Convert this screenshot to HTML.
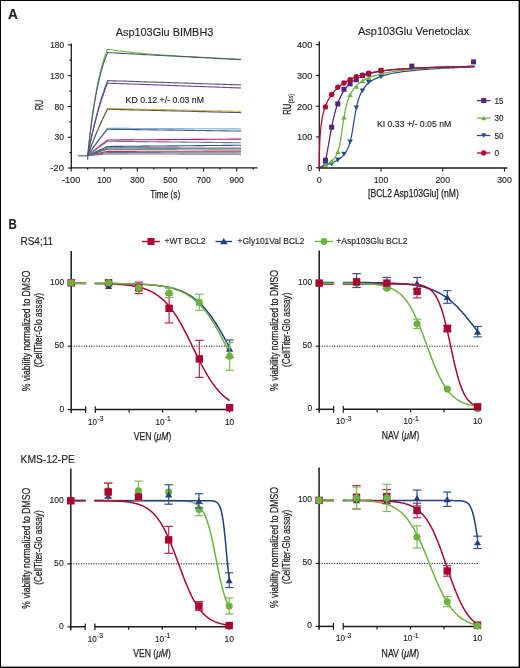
<!DOCTYPE html>
<html><head><meta charset="utf-8"><style>
html,body{margin:0;padding:0;background:#fff;}
svg{display:block;will-change:transform;}
text{font-family:"Liberation Sans", sans-serif;fill:#231f20;stroke:#231f20;stroke-width:0.15px;}
.cd{stroke-width:0.25px;}
</style></head><body>
<svg width="520" height="668" viewBox="0 0 520 668">
<rect width="520" height="668" fill="#fff"/>
<rect x="0" y="0" width="520" height="1" fill="#000"/>
<rect x="0" y="0" width="1" height="668" fill="#000"/>
<rect x="518.6" y="0" width="1.4" height="668" fill="#000"/>
<rect x="0" y="666.6" width="520" height="1.4" fill="#000"/>
<text x="7.90" y="18.70" font-size="14" text-anchor="start" font-weight="bold" textLength="9.9" lengthAdjust="spacingAndGlyphs" fill="#000" stroke="#000" stroke-width="0.45">A</text>
<text x="8.50" y="229.00" font-size="14" text-anchor="start" font-weight="bold" textLength="8.3" lengthAdjust="spacingAndGlyphs" fill="#000" stroke="#000" stroke-width="0.45">B</text>
<text x="164.50" y="36.20" font-size="11" text-anchor="middle" textLength="97.7" lengthAdjust="spacingAndGlyphs" >Asp103Glu BIMBH3</text>
<line x1="71.30" y1="43.50" x2="71.30" y2="168.40" stroke="#1a1a1a" stroke-width="1.3" />
<line x1="70.60" y1="167.90" x2="257.50" y2="167.90" stroke="#1a1a1a" stroke-width="1.3" />
<line x1="67.80" y1="44.93" x2="71.30" y2="44.93" stroke="#1a1a1a" stroke-width="1.1" />
<text x="64.00" y="48.13" font-size="9" text-anchor="end" textLength="13.8" lengthAdjust="spacingAndGlyphs" >180</text>
<line x1="67.80" y1="75.70" x2="71.30" y2="75.70" stroke="#1a1a1a" stroke-width="1.1" />
<text x="64.00" y="78.90" font-size="9" text-anchor="end" textLength="13.8" lengthAdjust="spacingAndGlyphs" >130</text>
<line x1="67.80" y1="106.47" x2="71.30" y2="106.47" stroke="#1a1a1a" stroke-width="1.1" />
<text x="64.00" y="109.67" font-size="9" text-anchor="end" textLength="9.5" lengthAdjust="spacingAndGlyphs" >80</text>
<line x1="67.80" y1="137.24" x2="71.30" y2="137.24" stroke="#1a1a1a" stroke-width="1.1" />
<text x="64.00" y="140.44" font-size="9" text-anchor="end" textLength="9.5" lengthAdjust="spacingAndGlyphs" >30</text>
<line x1="67.80" y1="168.01" x2="71.30" y2="168.01" stroke="#1a1a1a" stroke-width="1.1" />
<text x="64.00" y="171.21" font-size="9" text-anchor="end" textLength="13.8" lengthAdjust="spacingAndGlyphs" >-20</text>
<line x1="69.30" y1="60.31" x2="71.30" y2="60.31" stroke="#1a1a1a" stroke-width="1.1" />
<line x1="69.30" y1="91.08" x2="71.30" y2="91.08" stroke="#1a1a1a" stroke-width="1.1" />
<line x1="69.30" y1="121.85" x2="71.30" y2="121.85" stroke="#1a1a1a" stroke-width="1.1" />
<line x1="69.30" y1="152.62" x2="71.30" y2="152.62" stroke="#1a1a1a" stroke-width="1.1" />
<line x1="71.15" y1="167.90" x2="71.15" y2="171.60" stroke="#1a1a1a" stroke-width="1.1" />
<text x="71.15" y="182.80" font-size="9" text-anchor="middle" textLength="18.5" lengthAdjust="spacingAndGlyphs" >-100</text>
<line x1="87.70" y1="167.90" x2="87.70" y2="169.80" stroke="#1a1a1a" stroke-width="1.1" />
<line x1="104.25" y1="167.90" x2="104.25" y2="171.60" stroke="#1a1a1a" stroke-width="1.1" />
<text x="104.25" y="182.80" font-size="9" text-anchor="middle" textLength="14.2" lengthAdjust="spacingAndGlyphs" >100</text>
<line x1="120.80" y1="167.90" x2="120.80" y2="169.80" stroke="#1a1a1a" stroke-width="1.1" />
<line x1="137.35" y1="167.90" x2="137.35" y2="171.60" stroke="#1a1a1a" stroke-width="1.1" />
<text x="137.35" y="182.80" font-size="9" text-anchor="middle" textLength="14.2" lengthAdjust="spacingAndGlyphs" >300</text>
<line x1="153.90" y1="167.90" x2="153.90" y2="169.80" stroke="#1a1a1a" stroke-width="1.1" />
<line x1="170.45" y1="167.90" x2="170.45" y2="171.60" stroke="#1a1a1a" stroke-width="1.1" />
<text x="170.45" y="182.80" font-size="9" text-anchor="middle" textLength="14.2" lengthAdjust="spacingAndGlyphs" >500</text>
<line x1="187.00" y1="167.90" x2="187.00" y2="169.80" stroke="#1a1a1a" stroke-width="1.1" />
<line x1="203.55" y1="167.90" x2="203.55" y2="171.60" stroke="#1a1a1a" stroke-width="1.1" />
<text x="203.55" y="182.80" font-size="9" text-anchor="middle" textLength="14.2" lengthAdjust="spacingAndGlyphs" >700</text>
<line x1="220.10" y1="167.90" x2="220.10" y2="169.80" stroke="#1a1a1a" stroke-width="1.1" />
<line x1="236.65" y1="167.90" x2="236.65" y2="171.60" stroke="#1a1a1a" stroke-width="1.1" />
<text x="236.65" y="182.80" font-size="9" text-anchor="middle" textLength="14.2" lengthAdjust="spacingAndGlyphs" >900</text>
<line x1="253.20" y1="167.90" x2="253.20" y2="169.80" stroke="#1a1a1a" stroke-width="1.1" />
<text x="165.20" y="197.60" font-size="11" text-anchor="middle" textLength="30" lengthAdjust="spacingAndGlyphs" class="cd">Time (s)</text>
<text x="42.80" y="104.90" font-size="11" text-anchor="middle" textLength="10.3" lengthAdjust="spacingAndGlyphs" transform="rotate(-90 42.80 104.90)" class="cd">RU</text>
<text x="125.60" y="102.80" font-size="9" text-anchor="start" textLength="78.4" lengthAdjust="spacingAndGlyphs" >KD 0.12 +/- 0.03 nM</text>
<path d="M87.70,155.70 L88.53,155.51 L89.36,155.32 L90.18,155.13 L91.01,154.95 L91.84,154.76 L92.67,154.57 L93.49,154.39 L94.32,154.21 L95.15,154.02 L95.98,153.84 L96.80,153.66 L97.63,153.48 L98.46,153.30 L99.28,153.12 L100.11,152.95 L100.94,152.77 L101.77,152.60 L102.59,152.42 L103.42,152.25 L104.25,152.07 L105.08,151.90 L105.91,151.73 L106.73,151.56 L107.56,151.39 L110.98,151.38 L114.41,151.38 L117.83,151.37 L121.26,151.36 L124.68,151.35 L128.11,151.34 L131.53,151.34 L134.96,151.33 L138.38,151.32 L141.81,151.31 L145.23,151.31 L148.65,151.30 L152.08,151.29 L155.50,151.28 L158.93,151.27 L162.35,151.27 L165.78,151.26 L169.20,151.25 L172.63,151.24 L176.05,151.23 L179.48,151.23 L182.90,151.22 L186.33,151.21 L189.75,151.20 L193.17,151.19 L196.60,151.19 L200.02,151.18 L203.45,151.17 L206.87,151.16 L210.30,151.16 L213.72,151.15 L217.15,151.14 L220.57,151.13 L224.00,151.12 L227.42,151.12 L230.84,151.11 L234.27,151.10 L237.69,151.09 L241.12,151.08" fill="none" stroke="#d02848" stroke-width="1.1" stroke-linejoin="miter"/>
<path d="M87.70,155.70 L88.53,155.41 L89.36,155.13 L90.18,154.85 L91.01,154.57 L91.84,154.29 L92.67,154.01 L93.49,153.73 L94.32,153.46 L95.15,153.19 L95.98,152.91 L96.80,152.64 L97.63,152.37 L98.46,152.10 L99.28,151.84 L100.11,151.57 L100.94,151.31 L101.77,151.04 L102.59,150.78 L103.42,150.52 L104.25,150.26 L105.08,150.00 L105.91,149.75 L106.73,149.49 L107.56,149.24 L110.98,149.23 L114.41,149.22 L117.83,149.21 L121.26,149.21 L124.68,149.20 L128.11,149.19 L131.53,149.18 L134.96,149.18 L138.38,149.17 L141.81,149.16 L145.23,149.15 L148.65,149.14 L152.08,149.14 L155.50,149.13 L158.93,149.12 L162.35,149.11 L165.78,149.10 L169.20,149.10 L172.63,149.09 L176.05,149.08 L179.48,149.07 L182.90,149.06 L186.33,149.06 L189.75,149.05 L193.17,149.04 L196.60,149.03 L200.02,149.03 L203.45,149.02 L206.87,149.01 L210.30,149.00 L213.72,148.99 L217.15,148.99 L220.57,148.98 L224.00,148.97 L227.42,148.96 L230.84,148.95 L234.27,148.95 L237.69,148.94 L241.12,148.93" fill="none" stroke="#3f6f5f" stroke-width="1.1" stroke-linejoin="miter"/>
<path d="M87.70,155.70 L88.53,155.29 L89.36,154.89 L90.18,154.48 L91.01,154.08 L91.84,153.68 L92.67,153.29 L93.49,152.89 L94.32,152.50 L95.15,152.11 L95.98,151.72 L96.80,151.33 L97.63,150.95 L98.46,150.56 L99.28,150.18 L100.11,149.80 L100.94,149.42 L101.77,149.05 L102.59,148.67 L103.42,148.30 L104.25,147.93 L105.08,147.56 L105.91,147.20 L106.73,146.83 L107.56,146.47 L110.98,146.44 L114.41,146.41 L117.83,146.37 L121.26,146.34 L124.68,146.31 L128.11,146.28 L131.53,146.25 L134.96,146.22 L138.38,146.18 L141.81,146.15 L145.23,146.12 L148.65,146.09 L152.08,146.06 L155.50,146.03 L158.93,146.00 L162.35,145.96 L165.78,145.93 L169.20,145.90 L172.63,145.87 L176.05,145.84 L179.48,145.81 L182.90,145.77 L186.33,145.74 L189.75,145.71 L193.17,145.68 L196.60,145.65 L200.02,145.62 L203.45,145.59 L206.87,145.55 L210.30,145.52 L213.72,145.49 L217.15,145.46 L220.57,145.43 L224.00,145.40 L227.42,145.36 L230.84,145.33 L234.27,145.30 L237.69,145.27 L241.12,145.24" fill="none" stroke="#2f4f95" stroke-width="1.1" stroke-linejoin="miter"/>
<path d="M87.70,155.70 L88.53,155.01 L89.36,154.32 L90.18,153.63 L91.01,152.95 L91.84,152.27 L92.67,151.60 L93.49,150.93 L94.32,150.26 L95.15,149.59 L95.98,148.93 L96.80,148.27 L97.63,147.62 L98.46,146.97 L99.28,146.32 L100.11,145.67 L100.94,145.03 L101.77,144.39 L102.59,143.76 L103.42,143.12 L104.25,142.49 L105.08,141.87 L105.91,141.24 L106.73,140.62 L107.56,140.01 L110.98,139.98 L114.41,139.96 L117.83,139.94 L121.26,139.91 L124.68,139.89 L128.11,139.87 L131.53,139.84 L134.96,139.82 L138.38,139.79 L141.81,139.77 L145.23,139.75 L148.65,139.72 L152.08,139.70 L155.50,139.68 L158.93,139.65 L162.35,139.63 L165.78,139.60 L169.20,139.58 L172.63,139.56 L176.05,139.53 L179.48,139.51 L182.90,139.49 L186.33,139.46 L189.75,139.44 L193.17,139.42 L196.60,139.39 L200.02,139.37 L203.45,139.34 L206.87,139.32 L210.30,139.30 L213.72,139.27 L217.15,139.25 L220.57,139.23 L224.00,139.20 L227.42,139.18 L230.84,139.16 L234.27,139.13 L237.69,139.11 L241.12,139.08" fill="none" stroke="#cc0a7a" stroke-width="1.1" stroke-linejoin="miter"/>
<path d="M87.70,155.70 L88.53,154.42 L89.36,153.16 L90.18,151.91 L91.01,150.67 L91.84,149.44 L92.67,148.23 L93.49,147.02 L94.32,145.83 L95.15,144.65 L95.98,143.49 L96.80,142.33 L97.63,141.19 L98.46,140.05 L99.28,138.93 L100.11,137.82 L100.94,136.72 L101.77,135.64 L102.59,134.56 L103.42,133.49 L104.25,132.43 L105.08,131.39 L105.91,130.35 L106.73,129.33 L107.56,128.31 L110.98,128.33 L114.41,128.35 L117.83,128.36 L121.26,128.38 L124.68,128.39 L128.11,128.41 L131.53,128.43 L134.96,128.44 L138.38,128.46 L141.81,128.47 L145.23,128.49 L148.65,128.50 L152.08,128.52 L155.50,128.54 L158.93,128.55 L162.35,128.57 L165.78,128.58 L169.20,128.60 L172.63,128.61 L176.05,128.63 L179.48,128.65 L182.90,128.66 L186.33,128.68 L189.75,128.69 L193.17,128.71 L196.60,128.72 L200.02,128.74 L203.45,128.76 L206.87,128.77 L210.30,128.79 L213.72,128.80 L217.15,128.82 L220.57,128.84 L224.00,128.85 L227.42,128.87 L230.84,128.88 L234.27,128.90 L237.69,128.91 L241.12,128.93" fill="none" stroke="#7ab4e4" stroke-width="1.1" stroke-linejoin="miter"/>
<path d="M87.70,155.70 L88.53,153.37 L89.36,151.07 L90.18,148.80 L91.01,146.57 L91.84,144.37 L92.67,142.21 L93.49,140.08 L94.32,137.98 L95.15,135.91 L95.98,133.87 L96.80,131.86 L97.63,129.88 L98.46,127.93 L99.28,126.01 L100.11,124.12 L100.94,122.26 L101.77,120.42 L102.59,118.61 L103.42,116.83 L104.25,115.08 L105.08,113.35 L105.91,111.64 L106.73,109.97 L107.56,108.31 L110.98,108.39 L114.41,108.47 L117.83,108.55 L121.26,108.63 L124.68,108.71 L128.11,108.79 L131.53,108.87 L134.96,108.95 L138.38,109.02 L141.81,109.10 L145.23,109.18 L148.65,109.26 L152.08,109.34 L155.50,109.42 L158.93,109.50 L162.35,109.58 L165.78,109.66 L169.20,109.73 L172.63,109.81 L176.05,109.89 L179.48,109.97 L182.90,110.05 L186.33,110.13 L189.75,110.21 L193.17,110.29 L196.60,110.37 L200.02,110.44 L203.45,110.52 L206.87,110.60 L210.30,110.68 L213.72,110.76 L217.15,110.84 L220.57,110.92 L224.00,111.00 L227.42,111.08 L230.84,111.15 L234.27,111.23 L237.69,111.31 L241.12,111.39" fill="none" stroke="#e4b820" stroke-width="1.1" stroke-linejoin="miter"/>
<path d="M87.70,155.70 L88.53,151.52 L89.36,147.46 L90.18,143.52 L91.01,139.70 L91.84,135.99 L92.67,132.39 L93.49,128.90 L94.32,125.51 L95.15,122.22 L95.98,119.03 L96.80,115.93 L97.63,112.93 L98.46,110.01 L99.28,107.18 L100.11,104.43 L100.94,101.76 L101.77,99.18 L102.59,96.66 L103.42,94.23 L104.25,91.86 L105.08,89.57 L105.91,87.34 L106.73,85.18 L107.56,83.08 L110.98,83.21 L114.41,83.34 L117.83,83.46 L121.26,83.59 L124.68,83.71 L128.11,83.84 L131.53,83.97 L134.96,84.09 L138.38,84.22 L141.81,84.35 L145.23,84.47 L148.65,84.60 L152.08,84.72 L155.50,84.85 L158.93,84.98 L162.35,85.10 L165.78,85.23 L169.20,85.36 L172.63,85.48 L176.05,85.61 L179.48,85.73 L182.90,85.86 L186.33,85.99 L189.75,86.11 L193.17,86.24 L196.60,86.36 L200.02,86.49 L203.45,86.62 L206.87,86.74 L210.30,86.87 L213.72,87.00 L217.15,87.12 L220.57,87.25 L224.00,87.37 L227.42,87.50 L230.84,87.63 L234.27,87.75 L237.69,87.88 L241.12,88.01" fill="none" stroke="#7f3f98" stroke-width="1.1" stroke-linejoin="miter"/>
<path d="M87.70,155.70 L88.53,147.57 L89.36,139.92 L90.18,132.72 L91.01,125.93 L91.84,119.54 L92.67,113.52 L93.49,107.85 L94.32,102.51 L95.15,97.48 L95.98,92.75 L96.80,88.29 L97.63,84.09 L98.46,80.14 L99.28,76.41 L100.11,72.90 L100.94,69.60 L101.77,66.49 L102.59,63.56 L103.42,60.80 L104.25,58.20 L105.08,55.76 L105.91,53.45 L106.73,51.28 L107.56,49.24 L110.98,49.79 L114.41,50.30 L117.83,50.78 L121.26,51.23 L124.68,51.64 L128.11,52.03 L131.53,52.40 L134.96,52.75 L138.38,53.08 L141.81,53.39 L145.23,53.69 L148.65,53.97 L152.08,54.24 L155.50,54.50 L158.93,54.75 L162.35,54.99 L165.78,55.22 L169.20,55.44 L172.63,55.66 L176.05,55.87 L179.48,56.07 L182.90,56.27 L186.33,56.47 L189.75,56.66 L193.17,56.85 L196.60,57.04 L200.02,57.22 L203.45,57.40 L206.87,57.57 L210.30,57.75 L213.72,57.92 L217.15,58.09 L220.57,58.26 L224.00,58.43 L227.42,58.60 L230.84,58.77 L234.27,58.93 L237.69,59.09 L241.12,59.26" fill="none" stroke="#6db33f" stroke-width="1.1" stroke-linejoin="miter"/>
<path d="M87.70,155.70 L88.53,155.62 L89.36,155.54 L90.18,155.46 L91.01,155.38 L91.84,155.30 L92.67,155.22 L93.49,155.14 L94.32,155.06 L95.15,154.98 L95.98,154.90 L96.80,154.83 L97.63,154.75 L98.46,154.67 L99.28,154.60 L100.11,154.52 L100.94,154.44 L101.77,154.37 L102.59,154.29 L103.42,154.22 L104.25,154.15 L105.08,154.07 L105.91,154.00 L106.73,153.93 L107.56,153.85 L110.98,153.86 L114.41,153.88 L117.83,153.89 L121.26,153.90 L124.68,153.91 L128.11,153.92 L131.53,153.93 L134.96,153.94 L138.38,153.95 L141.81,153.96 L145.23,153.98 L148.65,153.99 L152.08,154.00 L155.50,154.01 L158.93,154.02 L162.35,154.03 L165.78,154.04 L169.20,154.05 L172.63,154.06 L176.05,154.07 L179.48,154.09 L182.90,154.10 L186.33,154.11 L189.75,154.12 L193.17,154.13 L196.60,154.14 L200.02,154.15 L203.45,154.16 L206.87,154.17 L210.30,154.19 L213.72,154.20 L217.15,154.21 L220.57,154.22 L224.00,154.23 L227.42,154.24 L230.84,154.25 L234.27,154.26 L237.69,154.27 L241.12,154.28" fill="none" stroke="#737888" stroke-width="1.1" stroke-linejoin="miter"/>
<path d="M87.70,155.70 L88.53,155.56 L89.36,155.42 L90.18,155.28 L91.01,155.14 L91.84,155.00 L92.67,154.86 L93.49,154.73 L94.32,154.59 L95.15,154.45 L95.98,154.32 L96.80,154.19 L97.63,154.05 L98.46,153.92 L99.28,153.79 L100.11,153.66 L100.94,153.52 L101.77,153.39 L102.59,153.26 L103.42,153.14 L104.25,153.01 L105.08,152.88 L105.91,152.75 L106.73,152.63 L107.56,152.50 L110.98,152.51 L114.41,152.52 L117.83,152.53 L121.26,152.54 L124.68,152.56 L128.11,152.57 L131.53,152.58 L134.96,152.59 L138.38,152.60 L141.81,152.61 L145.23,152.62 L148.65,152.63 L152.08,152.64 L155.50,152.65 L158.93,152.67 L162.35,152.68 L165.78,152.69 L169.20,152.70 L172.63,152.71 L176.05,152.72 L179.48,152.73 L182.90,152.74 L186.33,152.75 L189.75,152.77 L193.17,152.78 L196.60,152.79 L200.02,152.80 L203.45,152.81 L206.87,152.82 L210.30,152.83 L213.72,152.84 L217.15,152.85 L220.57,152.86 L224.00,152.88 L227.42,152.89 L230.84,152.90 L234.27,152.91 L237.69,152.92 L241.12,152.93" fill="none" stroke="#737888" stroke-width="1.1" stroke-linejoin="miter"/>
<path d="M87.70,155.70 L88.53,155.35 L89.36,155.01 L90.18,154.66 L91.01,154.32 L91.84,153.98 L92.67,153.64 L93.49,153.30 L94.32,152.97 L95.15,152.63 L95.98,152.30 L96.80,151.97 L97.63,151.64 L98.46,151.32 L99.28,150.99 L100.11,150.67 L100.94,150.34 L101.77,150.02 L102.59,149.70 L103.42,149.39 L104.25,149.07 L105.08,148.76 L105.91,148.44 L106.73,148.13 L107.56,147.82 L110.98,147.83 L114.41,147.83 L117.83,147.84 L121.26,147.84 L124.68,147.85 L128.11,147.85 L131.53,147.86 L134.96,147.86 L138.38,147.87 L141.81,147.87 L145.23,147.87 L148.65,147.88 L152.08,147.88 L155.50,147.89 L158.93,147.89 L162.35,147.90 L165.78,147.90 L169.20,147.91 L172.63,147.91 L176.05,147.92 L179.48,147.92 L182.90,147.93 L186.33,147.93 L189.75,147.94 L193.17,147.94 L196.60,147.95 L200.02,147.95 L203.45,147.96 L206.87,147.96 L210.30,147.96 L213.72,147.97 L217.15,147.97 L220.57,147.98 L224.00,147.98 L227.42,147.99 L230.84,147.99 L234.27,148.00 L237.69,148.00 L241.12,148.01" fill="none" stroke="#5e6a88" stroke-width="1.1" stroke-linejoin="miter"/>
<path d="M87.70,155.70 L88.53,155.06 L89.36,154.43 L90.18,153.80 L91.01,153.17 L91.84,152.54 L92.67,151.92 L93.49,151.30 L94.32,150.69 L95.15,150.07 L95.98,149.46 L96.80,148.86 L97.63,148.25 L98.46,147.65 L99.28,147.05 L100.11,146.46 L100.94,145.87 L101.77,145.28 L102.59,144.69 L103.42,144.11 L104.25,143.53 L105.08,142.95 L105.91,142.38 L106.73,141.81 L107.56,141.24 L110.98,141.28 L114.41,141.32 L117.83,141.36 L121.26,141.40 L124.68,141.44 L128.11,141.47 L131.53,141.51 L134.96,141.55 L138.38,141.59 L141.81,141.63 L145.23,141.67 L148.65,141.71 L152.08,141.75 L155.50,141.79 L158.93,141.83 L162.35,141.87 L165.78,141.91 L169.20,141.95 L172.63,141.99 L176.05,142.03 L179.48,142.07 L182.90,142.11 L186.33,142.15 L189.75,142.18 L193.17,142.22 L196.60,142.26 L200.02,142.30 L203.45,142.34 L206.87,142.38 L210.30,142.42 L213.72,142.46 L217.15,142.50 L220.57,142.54 L224.00,142.58 L227.42,142.62 L230.84,142.66 L234.27,142.70 L237.69,142.74 L241.12,142.78" fill="none" stroke="#737888" stroke-width="1.1" stroke-linejoin="miter"/>
<path d="M87.70,155.70 L88.53,154.47 L89.36,153.24 L90.18,152.03 L91.01,150.84 L91.84,149.65 L92.67,148.48 L93.49,147.32 L94.32,146.16 L95.15,145.03 L95.98,143.90 L96.80,142.78 L97.63,141.68 L98.46,140.58 L99.28,139.50 L100.11,138.43 L100.94,137.36 L101.77,136.31 L102.59,135.27 L103.42,134.24 L104.25,133.22 L105.08,132.21 L105.91,131.21 L106.73,130.22 L107.56,129.24 L110.98,129.29 L114.41,129.33 L117.83,129.38 L121.26,129.43 L124.68,129.47 L128.11,129.52 L131.53,129.57 L134.96,129.62 L138.38,129.66 L141.81,129.71 L145.23,129.76 L148.65,129.81 L152.08,129.85 L155.50,129.90 L158.93,129.95 L162.35,130.00 L165.78,130.04 L169.20,130.09 L172.63,130.14 L176.05,130.18 L179.48,130.23 L182.90,130.28 L186.33,130.33 L189.75,130.37 L193.17,130.42 L196.60,130.47 L200.02,130.52 L203.45,130.56 L206.87,130.61 L210.30,130.66 L213.72,130.71 L217.15,130.75 L220.57,130.80 L224.00,130.85 L227.42,130.89 L230.84,130.94 L234.27,130.99 L237.69,131.04 L241.12,131.08" fill="none" stroke="#4c5a75" stroke-width="1.1" stroke-linejoin="miter"/>
<path d="M87.70,155.70 L88.53,153.41 L89.36,151.16 L90.18,148.94 L91.01,146.75 L91.84,144.60 L92.67,142.47 L93.49,140.38 L94.32,138.32 L95.15,136.29 L95.98,134.29 L96.80,132.32 L97.63,130.38 L98.46,128.47 L99.28,126.59 L100.11,124.73 L100.94,122.91 L101.77,121.11 L102.59,119.33 L103.42,117.59 L104.25,115.87 L105.08,114.17 L105.91,112.50 L106.73,110.86 L107.56,109.24 L110.98,109.32 L114.41,109.41 L117.83,109.50 L121.26,109.58 L124.68,109.67 L128.11,109.76 L131.53,109.84 L134.96,109.93 L138.38,110.02 L141.81,110.11 L145.23,110.19 L148.65,110.28 L152.08,110.37 L155.50,110.45 L158.93,110.54 L162.35,110.63 L165.78,110.71 L169.20,110.80 L172.63,110.89 L176.05,110.97 L179.48,111.06 L182.90,111.15 L186.33,111.23 L189.75,111.32 L193.17,111.41 L196.60,111.49 L200.02,111.58 L203.45,111.67 L206.87,111.75 L210.30,111.84 L213.72,111.93 L217.15,112.01 L220.57,112.10 L224.00,112.19 L227.42,112.27 L230.84,112.36 L234.27,112.45 L237.69,112.54 L241.12,112.62" fill="none" stroke="#4c5a75" stroke-width="1.1" stroke-linejoin="miter"/>
<path d="M87.70,155.70 L88.53,151.38 L89.36,147.18 L90.18,143.11 L91.01,139.16 L91.84,135.32 L92.67,131.60 L93.49,127.99 L94.32,124.49 L95.15,121.09 L95.98,117.79 L96.80,114.58 L97.63,111.48 L98.46,108.46 L99.28,105.53 L100.11,102.69 L100.94,99.93 L101.77,97.26 L102.59,94.66 L103.42,92.14 L104.25,89.70 L105.08,87.33 L105.91,85.02 L106.73,82.79 L107.56,80.62 L110.98,80.73 L114.41,80.84 L117.83,80.95 L121.26,81.06 L124.68,81.17 L128.11,81.28 L131.53,81.39 L134.96,81.50 L138.38,81.62 L141.81,81.73 L145.23,81.84 L148.65,81.95 L152.08,82.06 L155.50,82.17 L158.93,82.28 L162.35,82.39 L165.78,82.50 L169.20,82.61 L172.63,82.72 L176.05,82.83 L179.48,82.94 L182.90,83.05 L186.33,83.16 L189.75,83.27 L193.17,83.38 L196.60,83.49 L200.02,83.60 L203.45,83.71 L206.87,83.82 L210.30,83.93 L213.72,84.05 L217.15,84.16 L220.57,84.27 L224.00,84.38 L227.42,84.49 L230.84,84.60 L234.27,84.71 L237.69,84.82 L241.12,84.93" fill="none" stroke="#4c5a75" stroke-width="1.1" stroke-linejoin="miter"/>
<path d="M87.70,155.70 L88.53,147.83 L89.36,140.42 L90.18,133.45 L91.01,126.88 L91.84,120.69 L92.67,114.86 L93.49,109.37 L94.32,104.20 L95.15,99.34 L95.98,94.75 L96.80,90.43 L97.63,86.37 L98.46,82.54 L99.28,78.93 L100.11,75.54 L100.94,72.34 L101.77,69.33 L102.59,66.49 L103.42,63.82 L104.25,61.30 L105.08,58.93 L105.91,56.70 L106.73,54.60 L107.56,52.62 L110.98,52.80 L114.41,52.98 L117.83,53.16 L121.26,53.35 L124.68,53.53 L128.11,53.71 L131.53,53.89 L134.96,54.07 L138.38,54.25 L141.81,54.44 L145.23,54.62 L148.65,54.80 L152.08,54.98 L155.50,55.16 L158.93,55.34 L162.35,55.52 L165.78,55.71 L169.20,55.89 L172.63,56.07 L176.05,56.25 L179.48,56.43 L182.90,56.61 L186.33,56.79 L189.75,56.98 L193.17,57.16 L196.60,57.34 L200.02,57.52 L203.45,57.70 L206.87,57.88 L210.30,58.06 L213.72,58.25 L217.15,58.43 L220.57,58.61 L224.00,58.79 L227.42,58.97 L230.84,59.15 L234.27,59.33 L237.69,59.52 L241.12,59.70" fill="none" stroke="#4c5a75" stroke-width="1.1" stroke-linejoin="miter"/>
<line x1="87.70" y1="155.70" x2="87.70" y2="159.80" stroke="#4c5a75" stroke-width="1.1" />
<line x1="78.00" y1="155.80" x2="87.70" y2="155.80" stroke="#56627a" stroke-width="1.2" />
<text x="413.60" y="35.30" font-size="11" text-anchor="middle" textLength="111.3" lengthAdjust="spacingAndGlyphs" >Asp103Glu Venetoclax</text>
<line x1="319.30" y1="41.20" x2="319.30" y2="168.40" stroke="#1a1a1a" stroke-width="1.3" />
<line x1="318.60" y1="168.00" x2="507.40" y2="168.00" stroke="#1a1a1a" stroke-width="1.3" />
<line x1="316.00" y1="44.70" x2="319.30" y2="44.70" stroke="#1a1a1a" stroke-width="1.1" />
<text x="312.30" y="48.00" font-size="9" text-anchor="end" textLength="15.3" lengthAdjust="spacingAndGlyphs" >400</text>
<line x1="316.00" y1="75.45" x2="319.30" y2="75.45" stroke="#1a1a1a" stroke-width="1.1" />
<text x="312.30" y="78.75" font-size="9" text-anchor="end" textLength="15.3" lengthAdjust="spacingAndGlyphs" >300</text>
<line x1="316.00" y1="106.20" x2="319.30" y2="106.20" stroke="#1a1a1a" stroke-width="1.1" />
<text x="312.30" y="109.50" font-size="9" text-anchor="end" textLength="15.3" lengthAdjust="spacingAndGlyphs" >200</text>
<line x1="316.00" y1="136.95" x2="319.30" y2="136.95" stroke="#1a1a1a" stroke-width="1.1" />
<text x="312.30" y="140.25" font-size="9" text-anchor="end" textLength="15.3" lengthAdjust="spacingAndGlyphs" >100</text>
<line x1="316.00" y1="167.70" x2="319.30" y2="167.70" stroke="#1a1a1a" stroke-width="1.1" />
<text x="312.30" y="171.00" font-size="9" text-anchor="end" >0</text>
<line x1="319.30" y1="168.00" x2="319.30" y2="171.60" stroke="#1a1a1a" stroke-width="1.1" />
<text x="319.30" y="182.60" font-size="9" text-anchor="middle" >0</text>
<line x1="381.03" y1="168.00" x2="381.03" y2="171.60" stroke="#1a1a1a" stroke-width="1.1" />
<text x="381.03" y="182.60" font-size="9" text-anchor="middle" textLength="14.5" lengthAdjust="spacingAndGlyphs" >100</text>
<line x1="442.76" y1="168.00" x2="442.76" y2="171.60" stroke="#1a1a1a" stroke-width="1.1" />
<text x="442.76" y="182.60" font-size="9" text-anchor="middle" textLength="14.5" lengthAdjust="spacingAndGlyphs" >200</text>
<line x1="504.49" y1="168.00" x2="504.49" y2="171.60" stroke="#1a1a1a" stroke-width="1.1" />
<text x="504.49" y="182.60" font-size="9" text-anchor="middle" textLength="14.5" lengthAdjust="spacingAndGlyphs" >300</text>
<text x="413.40" y="196.90" font-size="11" text-anchor="middle" textLength="90.7" lengthAdjust="spacingAndGlyphs" class="cd">[BCL2 Asp103Glu] (nM)</text>
<text x="291.10" y="114.80" font-size="11" text-anchor="start" textLength="11.0" lengthAdjust="spacingAndGlyphs" transform="rotate(-90 291.10 114.80)" class="cd">RU</text>
<text x="293.40" y="103.30" font-size="7.6" text-anchor="start" textLength="9.5" lengthAdjust="spacingAndGlyphs" transform="rotate(-90 293.40 103.30)" >(ss)</text>
<text x="376.90" y="126.90" font-size="9" text-anchor="start" textLength="74.5" lengthAdjust="spacingAndGlyphs" >KI 0.33 +/- 0.05 nM</text>
<path d="M319.30,167.60 L319.33,167.56 L319.36,167.54 L319.40,167.51 L319.43,167.49 L319.46,167.47 L319.49,167.45 L319.53,167.43 L319.56,167.42 L319.59,167.40 L319.62,167.38 L319.66,167.37 L319.69,167.35 L319.72,167.33 L319.75,167.32 L319.79,167.30 L319.82,167.29 L319.85,167.27 L319.88,167.26 L319.92,167.24 L320.06,167.18 L320.20,167.12 L320.34,167.07 L320.49,167.01 L320.63,166.96 L320.77,166.90 L320.91,166.85 L321.06,166.80 L321.20,166.75 L321.34,166.70 L321.48,166.65 L321.63,166.60 L321.77,166.55 L321.91,166.50 L322.05,166.45 L322.20,166.40 L322.34,166.35 L322.48,166.31 L322.62,166.26 L322.76,166.21 L322.91,166.16 L323.05,166.12 L323.19,166.07 L323.33,166.02 L323.48,165.97 L323.62,165.93 L323.76,165.88 L323.90,165.83 L324.05,165.79 L324.19,165.74 L324.33,165.69 L324.47,165.65 L324.62,165.60 L324.76,165.55 L324.90,165.50 L325.04,165.46 L325.19,165.41 L325.33,165.36 L325.47,165.31 L325.84,165.19 L326.22,165.06 L326.59,164.94 L326.96,164.81 L327.33,164.68 L327.71,164.55 L328.08,164.42 L328.45,164.28 L328.82,164.15 L329.20,164.01 L329.57,163.87 L329.94,163.73 L330.31,163.58 L330.69,163.43 L331.06,163.29 L331.43,163.13 L331.81,162.98 L332.18,162.82 L332.55,162.66 L332.92,162.49 L333.30,162.33 L333.67,162.15 L334.04,161.98 L334.41,161.80 L334.79,161.61 L335.16,161.43 L335.53,161.23 L335.91,161.03 L336.28,160.83 L336.65,160.62 L337.02,160.40 L337.40,160.18 L337.77,159.95 L338.14,159.72 L338.51,159.47 L338.89,159.22 L339.26,158.96 L339.63,158.69 L340.00,158.41 L340.38,158.12 L340.75,157.82 L341.12,157.51 L341.50,157.19 L341.87,156.85 L342.24,156.49 L342.61,156.13 L342.99,155.74 L343.36,155.34 L343.73,154.91 L344.10,154.47 L344.48,154.00 L344.85,153.51 L345.22,152.99 L345.59,152.44 L345.97,151.86 L346.34,151.24 L346.71,150.58 L347.09,149.88 L347.46,149.13 L347.83,148.33 L348.20,147.47 L348.58,146.54 L348.95,145.54 L349.32,144.46 L349.69,143.28 L350.07,142.01 L350.44,140.63 L350.81,139.12 L351.19,137.48 L351.56,135.71 L351.93,133.80 L352.30,131.75 L352.68,129.57 L353.05,127.29 L353.42,124.93 L353.79,122.53 L354.17,120.14 L354.54,117.79 L354.91,115.51 L355.28,113.34 L355.66,111.28 L356.03,109.35 L356.40,107.54 L356.78,105.85 L357.15,104.28 L357.52,102.81 L357.89,101.45 L358.27,100.17 L358.64,98.99 L359.01,97.88 L359.38,96.84 L359.76,95.87 L360.13,94.95 L360.50,94.09 L360.88,93.28 L361.25,92.52 L361.62,91.79 L361.99,91.11 L362.37,90.46 L362.74,89.84 L363.11,89.25 L363.48,88.69 L363.86,88.16 L364.23,87.65 L364.60,87.16 L364.97,86.70 L365.35,86.25 L365.72,85.82 L366.09,85.41 L366.47,85.02 L366.84,84.64 L367.21,84.27 L367.58,83.92 L367.96,83.58 L368.33,83.26 L368.70,82.94 L369.07,82.64 L369.45,82.34 L369.82,82.06 L370.19,81.78 L370.56,81.52 L370.94,81.26 L371.31,81.01 L371.68,80.76 L372.06,80.53 L372.43,80.30 L372.80,80.07 L373.17,79.86 L373.55,79.65 L373.92,79.44 L374.29,79.24 L374.66,79.05 L375.04,78.86 L375.41,78.68 L375.78,78.50 L376.16,78.32 L376.53,78.15 L376.90,77.98 L377.27,77.82 L377.65,77.66 L378.02,77.51 L378.39,77.35 L378.76,77.21 L379.14,77.06 L379.51,76.92 L379.88,76.78 L380.25,76.64 L380.63,76.51 L381.00,76.38 L383.40,75.60 L385.81,74.91 L388.21,74.30 L390.62,73.75 L393.02,73.25 L395.43,72.80 L397.83,72.39 L400.24,72.02 L402.64,71.67 L405.05,71.35 L407.45,71.05 L409.86,70.78 L412.26,70.52 L414.67,70.28 L417.07,70.05 L419.48,69.84 L421.88,69.64 L424.28,69.45 L426.69,69.27 L429.09,69.10 L431.50,68.94 L433.90,68.79 L436.31,68.64 L438.71,68.51 L441.12,68.37 L443.52,68.25 L445.93,68.13 L448.33,68.01 L450.74,67.90 L453.14,67.79 L455.55,67.69 L457.95,67.59 L460.36,67.50 L462.76,67.41 L465.17,67.32 L467.57,67.24 L469.97,67.15 L472.38,67.08 L474.78,67.00" fill="none" stroke="#284c90" stroke-width="1.25" />
<path d="M319.30,167.60 L319.33,167.57 L319.36,167.55 L319.40,167.53 L319.43,167.51 L319.46,167.49 L319.49,167.47 L319.53,167.46 L319.56,167.44 L319.59,167.42 L319.62,167.41 L319.66,167.39 L319.69,167.38 L319.72,167.36 L319.75,167.35 L319.79,167.33 L319.82,167.32 L319.85,167.30 L319.88,167.29 L319.92,167.27 L320.06,167.21 L320.20,167.15 L320.34,167.09 L320.49,167.03 L320.63,166.98 L320.77,166.92 L320.91,166.86 L321.06,166.81 L321.20,166.75 L321.34,166.70 L321.48,166.64 L321.63,166.58 L321.77,166.53 L321.91,166.47 L322.05,166.42 L322.20,166.36 L322.34,166.30 L322.48,166.25 L322.62,166.19 L322.76,166.13 L322.91,166.08 L323.05,166.02 L323.19,165.96 L323.33,165.91 L323.48,165.85 L323.62,165.79 L323.76,165.73 L323.90,165.67 L324.05,165.61 L324.19,165.55 L324.33,165.49 L324.47,165.43 L324.62,165.37 L324.76,165.30 L324.90,165.24 L325.04,165.18 L325.19,165.11 L325.33,165.05 L325.47,164.98 L325.84,164.81 L326.22,164.63 L326.59,164.45 L326.96,164.26 L327.33,164.06 L327.71,163.86 L328.08,163.65 L328.45,163.43 L328.82,163.21 L329.20,162.97 L329.57,162.73 L329.94,162.48 L330.31,162.21 L330.69,161.93 L331.06,161.64 L331.43,161.34 L331.81,161.02 L332.18,160.68 L332.55,160.32 L332.92,159.95 L333.30,159.55 L333.67,159.12 L334.04,158.67 L334.41,158.19 L334.79,157.67 L335.16,157.12 L335.53,156.53 L335.91,155.88 L336.28,155.19 L336.65,154.43 L337.02,153.60 L337.40,152.70 L337.77,151.71 L338.14,150.62 L338.51,149.41 L338.89,148.08 L339.26,146.60 L339.63,144.96 L340.00,143.15 L340.38,141.16 L340.75,138.98 L341.12,136.64 L341.50,134.16 L341.87,131.58 L342.24,128.95 L342.61,126.32 L342.99,123.74 L343.36,121.25 L343.73,118.88 L344.10,116.63 L344.48,114.52 L344.85,112.54 L345.22,110.69 L345.59,108.97 L345.97,107.36 L346.34,105.85 L346.71,104.45 L347.09,103.14 L347.46,101.90 L347.83,100.75 L348.20,99.66 L348.58,98.64 L348.95,97.67 L349.32,96.76 L349.69,95.90 L350.07,95.08 L350.44,94.30 L350.81,93.57 L351.19,92.87 L351.56,92.20 L351.93,91.56 L352.30,90.95 L352.68,90.37 L353.05,89.82 L353.42,89.28 L353.79,88.77 L354.17,88.28 L354.54,87.81 L354.91,87.36 L355.28,86.92 L355.66,86.50 L356.03,86.10 L356.40,85.71 L356.78,85.33 L357.15,84.97 L357.52,84.62 L357.89,84.28 L358.27,83.95 L358.64,83.63 L359.01,83.32 L359.38,83.02 L359.76,82.73 L360.13,82.45 L360.50,82.18 L360.88,81.91 L361.25,81.66 L361.62,81.40 L361.99,81.16 L362.37,80.92 L362.74,80.69 L363.11,80.47 L363.48,80.25 L363.86,80.03 L364.23,79.83 L364.60,79.62 L364.97,79.42 L365.35,79.23 L365.72,79.04 L366.09,78.86 L366.47,78.68 L366.84,78.50 L367.21,78.33 L367.58,78.16 L367.96,78.00 L368.33,77.84 L368.70,77.68 L369.07,77.52 L369.45,77.37 L369.82,77.22 L370.19,77.08 L370.56,76.94 L370.94,76.80 L371.31,76.66 L371.68,76.53 L372.06,76.40 L372.43,76.27 L372.80,76.14 L373.17,76.02 L373.55,75.90 L373.92,75.78 L374.29,75.66 L374.66,75.55 L375.04,75.43 L375.41,75.32 L375.78,75.21 L376.16,75.10 L376.53,75.00 L376.90,74.90 L377.27,74.79 L377.65,74.69 L378.02,74.60 L378.39,74.50 L378.76,74.40 L379.14,74.31 L379.51,74.22 L379.88,74.13 L380.25,74.04 L380.63,73.95 L381.00,73.86 L383.40,73.33 L385.81,72.85 L388.21,72.41 L390.62,72.00 L393.02,71.63 L395.43,71.28 L397.83,70.96 L400.24,70.66 L402.64,70.38 L405.05,70.12 L407.45,69.88 L409.86,69.65 L412.26,69.43 L414.67,69.22 L417.07,69.03 L419.48,68.84 L421.88,68.67 L424.28,68.50 L426.69,68.35 L429.09,68.19 L431.50,68.05 L433.90,67.91 L436.31,67.78 L438.71,67.66 L441.12,67.54 L443.52,67.42 L445.93,67.31 L448.33,67.20 L450.74,67.10 L453.14,67.00 L455.55,66.91 L457.95,66.81 L460.36,66.73 L462.76,66.64 L465.17,66.56 L467.57,66.48 L469.97,66.40 L472.38,66.33 L474.78,66.25" fill="none" stroke="#6ab23f" stroke-width="1.25" />
<path d="M319.30,167.60 L319.33,167.60 L319.36,167.60 L319.40,167.60 L319.43,167.60 L319.46,167.59 L319.49,167.59 L319.53,167.59 L319.56,167.59 L319.59,167.59 L319.62,167.58 L319.66,167.58 L319.69,167.58 L319.72,167.57 L319.75,167.57 L319.79,167.57 L319.82,167.56 L319.85,167.56 L319.88,167.56 L319.92,167.55 L320.06,167.53 L320.20,167.51 L320.34,167.48 L320.49,167.45 L320.63,167.42 L320.77,167.38 L320.91,167.34 L321.06,167.29 L321.20,167.24 L321.34,167.19 L321.48,167.13 L321.63,167.06 L321.77,166.98 L321.91,166.90 L322.05,166.81 L322.20,166.71 L322.34,166.60 L322.48,166.49 L322.62,166.36 L322.76,166.22 L322.91,166.07 L323.05,165.90 L323.19,165.73 L323.33,165.53 L323.48,165.32 L323.62,165.09 L323.76,164.85 L323.90,164.59 L324.05,164.30 L324.19,164.00 L324.33,163.67 L324.47,163.32 L324.62,162.94 L324.76,162.55 L324.90,162.13 L325.04,161.68 L325.19,161.21 L325.33,160.71 L325.47,160.19 L325.84,158.72 L326.22,157.09 L326.59,155.32 L326.96,153.43 L327.33,151.44 L327.71,149.38 L328.08,147.26 L328.45,145.10 L328.82,142.93 L329.20,140.76 L329.57,138.60 L329.94,136.47 L330.31,134.36 L330.69,132.31 L331.06,130.29 L331.43,128.33 L331.81,126.43 L332.18,124.58 L332.55,122.79 L332.92,121.06 L333.30,119.38 L333.67,117.77 L334.04,116.21 L334.41,114.71 L334.79,113.27 L335.16,111.88 L335.53,110.54 L335.91,109.25 L336.28,108.01 L336.65,106.82 L337.02,105.67 L337.40,104.56 L337.77,103.50 L338.14,102.48 L338.51,101.50 L338.89,100.55 L339.26,99.64 L339.63,98.76 L340.00,97.91 L340.38,97.10 L340.75,96.31 L341.12,95.56 L341.50,94.83 L341.87,94.12 L342.24,93.44 L342.61,92.79 L342.99,92.16 L343.36,91.54 L343.73,90.95 L344.10,90.38 L344.48,89.83 L344.85,89.30 L345.22,88.78 L345.59,88.28 L345.97,87.80 L346.34,87.33 L346.71,86.88 L347.09,86.44 L347.46,86.01 L347.83,85.60 L348.20,85.20 L348.58,84.81 L348.95,84.44 L349.32,84.07 L349.69,83.72 L350.07,83.37 L350.44,83.04 L350.81,82.71 L351.19,82.40 L351.56,82.09 L351.93,81.79 L352.30,81.50 L352.68,81.22 L353.05,80.94 L353.42,80.68 L353.79,80.42 L354.17,80.16 L354.54,79.91 L354.91,79.67 L355.28,79.44 L355.66,79.21 L356.03,78.99 L356.40,78.77 L356.78,78.56 L357.15,78.35 L357.52,78.15 L357.89,77.95 L358.27,77.76 L358.64,77.57 L359.01,77.39 L359.38,77.21 L359.76,77.03 L360.13,76.86 L360.50,76.70 L360.88,76.53 L361.25,76.37 L361.62,76.22 L361.99,76.06 L362.37,75.91 L362.74,75.77 L363.11,75.62 L363.48,75.48 L363.86,75.35 L364.23,75.21 L364.60,75.08 L364.97,74.95 L365.35,74.83 L365.72,74.70 L366.09,74.58 L366.47,74.46 L366.84,74.35 L367.21,74.23 L367.58,74.12 L367.96,74.01 L368.33,73.90 L368.70,73.80 L369.07,73.69 L369.45,73.59 L369.82,73.49 L370.19,73.40 L370.56,73.30 L370.94,73.21 L371.31,73.11 L371.68,73.02 L372.06,72.93 L372.43,72.85 L372.80,72.76 L373.17,72.68 L373.55,72.59 L373.92,72.51 L374.29,72.43 L374.66,72.35 L375.04,72.27 L375.41,72.20 L375.78,72.12 L376.16,72.05 L376.53,71.98 L376.90,71.91 L377.27,71.84 L377.65,71.77 L378.02,71.70 L378.39,71.63 L378.76,71.57 L379.14,71.50 L379.51,71.44 L379.88,71.38 L380.25,71.32 L380.63,71.25 L381.00,71.19 L383.40,70.83 L385.81,70.50 L388.21,70.20 L390.62,69.93 L393.02,69.67 L395.43,69.44 L397.83,69.23 L400.24,69.03 L402.64,68.85 L405.05,68.68 L407.45,68.52 L409.86,68.37 L412.26,68.23 L414.67,68.10 L417.07,67.98 L419.48,67.87 L421.88,67.76 L424.28,67.66 L426.69,67.57 L429.09,67.48 L431.50,67.40 L433.90,67.32 L436.31,67.24 L438.71,67.17 L441.12,67.10 L443.52,67.04 L445.93,66.97 L448.33,66.92 L450.74,66.86 L453.14,66.81 L455.55,66.76 L457.95,66.71 L460.36,66.66 L462.76,66.62 L465.17,66.57 L467.57,66.53 L469.97,66.49 L472.38,66.46 L474.78,66.42" fill="none" stroke="#4f2679" stroke-width="1.25" />
<path d="M319.30,167.60 L319.33,160.48 L319.36,157.51 L319.40,155.29 L319.43,153.46 L319.46,151.89 L319.49,150.50 L319.53,149.25 L319.56,148.11 L319.59,147.06 L319.62,146.08 L319.66,145.16 L319.69,144.30 L319.72,143.49 L319.75,142.72 L319.79,141.98 L319.82,141.28 L319.85,140.61 L319.88,139.97 L319.92,139.35 L320.06,136.90 L320.20,134.76 L320.34,132.88 L320.49,131.18 L320.63,129.64 L320.77,128.23 L320.91,126.92 L321.06,125.71 L321.20,124.57 L321.34,123.51 L321.48,122.51 L321.63,121.56 L321.77,120.66 L321.91,119.81 L322.05,119.00 L322.20,118.22 L322.34,117.48 L322.48,116.77 L322.62,116.08 L322.76,115.42 L322.91,114.79 L323.05,114.17 L323.19,113.58 L323.33,113.01 L323.48,112.46 L323.62,111.92 L323.76,111.40 L323.90,110.90 L324.05,110.41 L324.19,109.93 L324.33,109.47 L324.47,109.01 L324.62,108.57 L324.76,108.14 L324.90,107.73 L325.04,107.32 L325.19,106.92 L325.33,106.53 L325.47,106.14 L325.84,105.18 L326.22,104.27 L326.59,103.41 L326.96,102.59 L327.33,101.80 L327.71,101.05 L328.08,100.33 L328.45,99.64 L328.82,98.98 L329.20,98.34 L329.57,97.72 L329.94,97.12 L330.31,96.55 L330.69,95.99 L331.06,95.45 L331.43,94.93 L331.81,94.42 L332.18,93.93 L332.55,93.45 L332.92,92.99 L333.30,92.53 L333.67,92.09 L334.04,91.66 L334.41,91.24 L334.79,90.83 L335.16,90.43 L335.53,90.04 L335.91,89.66 L336.28,89.28 L336.65,88.92 L337.02,88.56 L337.40,88.21 L337.77,87.86 L338.14,87.53 L338.51,87.20 L338.89,86.87 L339.26,86.56 L339.63,86.25 L340.00,85.94 L340.38,85.64 L340.75,85.35 L341.12,85.06 L341.50,84.78 L341.87,84.50 L342.24,84.23 L342.61,83.96 L342.99,83.70 L343.36,83.44 L343.73,83.18 L344.10,82.93 L344.48,82.69 L344.85,82.45 L345.22,82.21 L345.59,81.98 L345.97,81.75 L346.34,81.52 L346.71,81.30 L347.09,81.08 L347.46,80.87 L347.83,80.66 L348.20,80.45 L348.58,80.25 L348.95,80.05 L349.32,79.85 L349.69,79.66 L350.07,79.47 L350.44,79.28 L350.81,79.10 L351.19,78.92 L351.56,78.74 L351.93,78.57 L352.30,78.40 L352.68,78.23 L353.05,78.06 L353.42,77.90 L353.79,77.74 L354.17,77.58 L354.54,77.43 L354.91,77.27 L355.28,77.13 L355.66,76.98 L356.03,76.83 L356.40,76.69 L356.78,76.55 L357.15,76.42 L357.52,76.28 L357.89,76.15 L358.27,76.02 L358.64,75.89 L359.01,75.76 L359.38,75.64 L359.76,75.52 L360.13,75.40 L360.50,75.28 L360.88,75.17 L361.25,75.05 L361.62,74.94 L361.99,74.83 L362.37,74.73 L362.74,74.62 L363.11,74.52 L363.48,74.41 L363.86,74.31 L364.23,74.21 L364.60,74.12 L364.97,74.02 L365.35,73.93 L365.72,73.83 L366.09,73.74 L366.47,73.65 L366.84,73.56 L367.21,73.48 L367.58,73.39 L367.96,73.31 L368.33,73.23 L368.70,73.14 L369.07,73.06 L369.45,72.98 L369.82,72.91 L370.19,72.83 L370.56,72.76 L370.94,72.68 L371.31,72.61 L371.68,72.54 L372.06,72.47 L372.43,72.40 L372.80,72.33 L373.17,72.26 L373.55,72.19 L373.92,72.13 L374.29,72.06 L374.66,72.00 L375.04,71.94 L375.41,71.88 L375.78,71.82 L376.16,71.76 L376.53,71.70 L376.90,71.64 L377.27,71.58 L377.65,71.52 L378.02,71.47 L378.39,71.41 L378.76,71.36 L379.14,71.31 L379.51,71.25 L379.88,71.20 L380.25,71.15 L380.63,71.10 L381.00,71.05 L383.40,70.74 L385.81,70.46 L388.21,70.20 L390.62,69.96 L393.02,69.73 L395.43,69.52 L397.83,69.33 L400.24,69.14 L402.64,68.97 L405.05,68.81 L407.45,68.66 L409.86,68.51 L412.26,68.38 L414.67,68.25 L417.07,68.13 L419.48,68.01 L421.88,67.90 L424.28,67.79 L426.69,67.69 L429.09,67.59 L431.50,67.50 L433.90,67.41 L436.31,67.33 L438.71,67.25 L441.12,67.17 L443.52,67.09 L445.93,67.02 L448.33,66.95 L450.74,66.88 L453.14,66.82 L455.55,66.76 L457.95,66.69 L460.36,66.64 L462.76,66.58 L465.17,66.52 L467.57,66.47 L469.97,66.42 L472.38,66.37 L474.78,66.32" fill="none" stroke="#b00a32" stroke-width="1.25" />
<polygon points="322.67,162.20 328.27,162.20 325.47,166.80" fill="#284c90"/>
<polygon points="328.84,161.90 334.44,161.90 331.64,166.50" fill="#284c90"/>
<polygon points="335.01,157.60 340.61,157.60 337.81,162.20" fill="#284c90"/>
<polygon points="341.18,151.80 346.78,151.80 343.98,156.40" fill="#284c90"/>
<polygon points="347.35,139.60 352.95,139.60 350.15,144.20" fill="#284c90"/>
<polygon points="353.52,105.50 359.12,105.50 356.32,110.10" fill="#284c90"/>
<polygon points="359.69,88.40 365.29,88.40 362.49,93.00" fill="#284c90"/>
<polygon points="365.86,80.00 371.46,80.00 368.66,84.60" fill="#284c90"/>
<polygon points="378.20,74.50 383.80,74.50 381.00,79.10" fill="#284c90"/>
<polygon points="322.67,166.80 328.27,166.80 325.47,162.20" fill="#6ab23f"/>
<polygon points="328.84,163.50 334.44,163.50 331.64,158.90" fill="#6ab23f"/>
<polygon points="335.01,154.00 340.61,154.00 337.81,149.40" fill="#6ab23f"/>
<polygon points="341.18,119.60 346.78,119.60 343.98,115.00" fill="#6ab23f"/>
<polygon points="347.35,97.00 352.95,97.00 350.15,92.40" fill="#6ab23f"/>
<polygon points="353.52,88.80 359.12,88.80 356.32,84.20" fill="#6ab23f"/>
<polygon points="359.69,83.30 365.29,83.30 362.49,78.70" fill="#6ab23f"/>
<polygon points="365.86,80.10 371.46,80.10 368.66,75.50" fill="#6ab23f"/>
<polygon points="378.20,74.90 383.80,74.90 381.00,70.30" fill="#6ab23f"/>
<rect x="322.97" y="157.70" width="5.0" height="5.0" fill="#4f2679"/>
<rect x="329.14" y="124.70" width="5.0" height="5.0" fill="#4f2679"/>
<rect x="335.31" y="101.40" width="5.0" height="5.0" fill="#4f2679"/>
<rect x="341.48" y="86.80" width="5.0" height="5.0" fill="#4f2679"/>
<rect x="347.65" y="81.30" width="5.0" height="5.0" fill="#4f2679"/>
<rect x="353.82" y="77.30" width="5.0" height="5.0" fill="#4f2679"/>
<rect x="359.99" y="73.10" width="5.0" height="5.0" fill="#4f2679"/>
<rect x="366.16" y="71.40" width="5.0" height="5.0" fill="#4f2679"/>
<rect x="378.50" y="67.90" width="5.0" height="5.0" fill="#4f2679"/>
<circle cx="325.47" cy="106.90" r="2.7" fill="#b00a32"/>
<circle cx="331.64" cy="94.40" r="2.7" fill="#b00a32"/>
<circle cx="337.81" cy="87.20" r="2.7" fill="#b00a32"/>
<circle cx="343.98" cy="83.00" r="2.7" fill="#b00a32"/>
<circle cx="350.15" cy="79.80" r="2.7" fill="#b00a32"/>
<circle cx="356.32" cy="76.80" r="2.7" fill="#b00a32"/>
<circle cx="362.49" cy="75.10" r="2.7" fill="#b00a32"/>
<circle cx="368.66" cy="73.10" r="2.7" fill="#b00a32"/>
<circle cx="381.00" cy="70.40" r="2.7" fill="#b00a32"/>
<rect x="409.35" y="63.60" width="5.0" height="5.0" fill="#4f2679"/>
<rect x="471.05" y="59.40" width="5.0" height="5.0" fill="#4f2679"/>
<line x1="477.00" y1="100.60" x2="490.40" y2="100.60" stroke="#4f2679" stroke-width="1.3" />
<rect x="481.20" y="98.10" width="5" height="5" fill="#4f2679"/>
<text x="494.40" y="103.90" font-size="9.5" text-anchor="start" textLength="9.0" lengthAdjust="spacingAndGlyphs" >15</text>
<line x1="477.00" y1="118.05" x2="490.40" y2="118.05" stroke="#6ab23f" stroke-width="1.3" />
<polygon points="481.10,120.18 486.30,120.18 483.70,115.92" fill="#6ab23f"/>
<text x="494.40" y="121.35" font-size="9.5" text-anchor="start" textLength="9.0" lengthAdjust="spacingAndGlyphs" >30</text>
<line x1="477.00" y1="135.50" x2="490.40" y2="135.50" stroke="#284c90" stroke-width="1.3" />
<polygon points="481.10,133.37 486.30,133.37 483.70,137.63" fill="#284c90"/>
<text x="494.40" y="138.80" font-size="9.5" text-anchor="start" textLength="9.0" lengthAdjust="spacingAndGlyphs" >50</text>
<line x1="477.00" y1="152.95" x2="490.40" y2="152.95" stroke="#b00a32" stroke-width="1.3" />
<circle cx="483.70" cy="152.95" r="2.6" fill="#b00a32"/>
<text x="494.40" y="156.25" font-size="9.5" text-anchor="start" textLength="4.6" lengthAdjust="spacingAndGlyphs" >0</text>
<text x="20.50" y="244.80" font-size="10.2" text-anchor="start" textLength="32.5" lengthAdjust="spacingAndGlyphs" >RS4;11</text>
<text x="20.50" y="463.00" font-size="10" text-anchor="start" textLength="54.5" lengthAdjust="spacingAndGlyphs" >KMS-12-PE</text>
<line x1="142.00" y1="241.50" x2="160.00" y2="241.50" stroke="#aa0532" stroke-width="1.4" />
<rect x="147.50" y="238.00" width="7" height="7" fill="#aa0532"/>
<text x="164.50" y="244.40" font-size="8.6" text-anchor="start" textLength="41" lengthAdjust="spacingAndGlyphs" >+WT BCL2</text>
<line x1="215.50" y1="241.50" x2="232.00" y2="241.50" stroke="#203f7e" stroke-width="1.4" />
<polygon points="219.95,244.32 227.55,244.32 223.75,238.08" fill="#203f7e"/>
<text x="237.50" y="244.40" font-size="8.6" text-anchor="start" textLength="67" lengthAdjust="spacingAndGlyphs" >+Gly101Val BCL2</text>
<line x1="314.50" y1="241.50" x2="333.00" y2="241.50" stroke="#6cb33e" stroke-width="1.4" />
<circle cx="324.00" cy="241.50" r="3.4" fill="#6cb33e"/>
<text x="336.30" y="244.40" font-size="8.6" text-anchor="start" textLength="71.2" lengthAdjust="spacingAndGlyphs" >+Asp103Glu BCL2</text>
<line x1="71.20" y1="346.20" x2="230.60" y2="346.20" stroke="#231f20" stroke-width="1" stroke-dasharray="1.2 1.3"/>
<line x1="71.20" y1="251.00" x2="71.20" y2="413.00" stroke="#1a1a1a" stroke-width="1.5" />
<line x1="70.60" y1="409.60" x2="85.60" y2="409.60" stroke="#1a1a1a" stroke-width="1.5" />
<line x1="95.30" y1="409.60" x2="230.20" y2="409.60" stroke="#1a1a1a" stroke-width="1.5" />
<line x1="85.60" y1="406.20" x2="85.60" y2="413.00" stroke="#1a1a1a" stroke-width="1.2" />
<line x1="95.30" y1="406.20" x2="95.30" y2="413.00" stroke="#1a1a1a" stroke-width="1.2" />
<line x1="129.10" y1="409.60" x2="129.10" y2="412.60" stroke="#1a1a1a" stroke-width="1.2" />
<line x1="162.60" y1="409.60" x2="162.60" y2="412.60" stroke="#1a1a1a" stroke-width="1.2" />
<line x1="196.10" y1="409.60" x2="196.10" y2="412.60" stroke="#1a1a1a" stroke-width="1.2" />
<line x1="229.60" y1="409.60" x2="229.60" y2="412.60" stroke="#1a1a1a" stroke-width="1.2" />
<line x1="67.80" y1="282.80" x2="71.20" y2="282.80" stroke="#1a1a1a" stroke-width="1.2" />
<text x="64.10" y="284.80" font-size="9.8" text-anchor="end" textLength="14.1" lengthAdjust="spacingAndGlyphs" >100</text>
<line x1="67.80" y1="346.20" x2="71.20" y2="346.20" stroke="#1a1a1a" stroke-width="1.2" />
<text x="64.10" y="348.20" font-size="9.8" text-anchor="end" textLength="9.6" lengthAdjust="spacingAndGlyphs" >50</text>
<line x1="67.80" y1="409.60" x2="71.20" y2="409.60" stroke="#1a1a1a" stroke-width="1.2" />
<text x="64.10" y="411.60" font-size="9.8" text-anchor="end" textLength="4.7" lengthAdjust="spacingAndGlyphs" >0</text>
<text x="88.10" y="424.50" font-size="9.6" textLength="9.0" lengthAdjust="spacingAndGlyphs">10</text>
<text x="97.40" y="420.80" font-size="6.6" textLength="6.0" lengthAdjust="spacingAndGlyphs">-3</text>
<text x="155.40" y="424.50" font-size="9.6" textLength="9.0" lengthAdjust="spacingAndGlyphs">10</text>
<text x="164.70" y="420.80" font-size="6.6" textLength="6.0" lengthAdjust="spacingAndGlyphs">-1</text>
<text x="229.60" y="424.50" font-size="9.6" text-anchor="middle" textLength="9.4" lengthAdjust="spacingAndGlyphs" >10</text>
<text x="152.50" y="439.70" font-size="11" class="cd" text-anchor="middle" textLength="37.6" lengthAdjust="spacingAndGlyphs">VEN (<tspan font-style="italic">μM</tspan>)</text>
<text x="30.00" y="330.90" font-size="11.5" text-anchor="middle" textLength="120.8" lengthAdjust="spacingAndGlyphs" transform="rotate(-90 30.00 330.90)" class="cd">% viability normalized to DMSO</text>
<text x="42.30" y="330.20" font-size="11.5" text-anchor="middle" textLength="74.3" lengthAdjust="spacingAndGlyphs" transform="rotate(-90 42.30 330.20)" class="cd">(CellTiter-Glo assay)</text>
<clipPath id="clip71_409"><rect x="0" y="0" width="86.10" height="668"/><rect x="94.80" y="0" width="300" height="668"/></clipPath>
<path d="M71.20,283.41 L72.20,283.42 L73.19,283.42 L74.19,283.42 L75.18,283.42 L76.18,283.42 L77.18,283.42 L78.17,283.42 L79.17,283.42 L80.17,283.43 L81.16,283.43 L82.16,283.43 L83.15,283.43 L84.15,283.43 L85.15,283.43 L86.14,283.44 L87.14,283.44 L88.14,283.44 L89.13,283.44 L90.13,283.45 L91.12,283.45 L92.12,283.45 L93.12,283.45 L94.11,283.46 L95.11,283.46 L96.11,283.46 L97.10,283.47 L98.10,283.47 L99.09,283.48 L100.09,283.48 L101.09,283.49 L102.08,283.49 L103.08,283.50 L104.08,283.50 L105.07,283.51 L106.07,283.51 L107.06,283.52 L108.06,283.53 L109.06,283.54 L110.05,283.54 L111.05,283.55 L112.05,283.56 L113.04,283.57 L114.04,283.58 L115.03,283.59 L116.03,283.60 L117.03,283.61 L118.02,283.63 L119.02,283.64 L120.02,283.65 L121.01,283.67 L122.01,283.68 L123.00,283.70 L124.00,283.72 L125.00,283.73 L125.99,283.75 L126.99,283.77 L127.98,283.80 L128.98,283.82 L129.98,283.84 L130.97,283.87 L131.97,283.90 L132.97,283.93 L133.96,283.96 L134.96,283.99 L135.95,284.02 L136.95,284.06 L137.95,284.10 L138.94,284.14 L139.94,284.18 L140.94,284.22 L141.93,284.27 L142.93,284.32 L143.92,284.37 L144.92,284.43 L145.92,284.49 L146.91,284.55 L147.91,284.62 L148.91,284.69 L149.90,284.76 L150.90,284.84 L151.89,284.92 L152.89,285.01 L153.89,285.10 L154.88,285.20 L155.88,285.31 L156.88,285.41 L157.87,285.53 L158.87,285.65 L159.86,285.78 L160.86,285.92 L161.86,286.06 L162.85,286.21 L163.85,286.37 L164.85,286.54 L165.84,286.71 L166.84,286.90 L167.83,287.10 L168.83,287.31 L169.83,287.53 L170.82,287.76 L171.82,288.00 L172.82,288.26 L173.81,288.53 L174.81,288.82 L175.80,289.12 L176.80,289.43 L177.80,289.77 L178.79,290.12 L179.79,290.49 L180.78,290.87 L181.78,291.28 L182.78,291.71 L183.77,292.16 L184.77,292.63 L185.77,293.13 L186.76,293.65 L187.76,294.20 L188.75,294.77 L189.75,295.37 L190.75,295.99 L191.74,296.65 L192.74,297.34 L193.74,298.06 L194.73,298.81 L195.73,299.59 L196.72,300.41 L197.72,301.26 L198.72,302.15 L199.71,303.07 L200.71,304.03 L201.71,305.03 L202.70,306.07 L203.70,307.15 L204.69,308.27 L205.69,309.42 L206.69,310.62 L207.68,311.85 L208.68,313.13 L209.68,314.45 L210.67,315.80 L211.67,317.20 L212.66,318.63 L213.66,320.10 L214.66,321.61 L215.65,323.15 L216.65,324.73 L217.65,326.34 L218.64,327.98 L219.64,329.66 L220.63,331.36 L221.63,333.08 L222.63,334.83 L223.62,336.60 L224.62,338.39 L225.62,340.20 L226.61,342.02 L227.61,343.84 L228.60,345.68 L229.60,347.52" fill="none" stroke="#203f7e" stroke-width="1.5" clip-path="url(#clip71_409)"/>
<path d="M71.20,283.23 L72.20,283.24 L73.19,283.24 L74.19,283.25 L75.18,283.25 L76.18,283.25 L77.18,283.26 L78.17,283.26 L79.17,283.27 L80.17,283.28 L81.16,283.28 L82.16,283.29 L83.15,283.30 L84.15,283.30 L85.15,283.31 L86.14,283.32 L87.14,283.33 L88.14,283.34 L89.13,283.35 L90.13,283.36 L91.12,283.37 L92.12,283.39 L93.12,283.40 L94.11,283.41 L95.11,283.43 L96.11,283.45 L97.10,283.46 L98.10,283.48 L99.09,283.50 L100.09,283.52 L101.09,283.54 L102.08,283.57 L103.08,283.59 L104.08,283.62 L105.07,283.65 L106.07,283.68 L107.06,283.71 L108.06,283.75 L109.06,283.78 L110.05,283.82 L111.05,283.87 L112.05,283.91 L113.04,283.96 L114.04,284.01 L115.03,284.06 L116.03,284.12 L117.03,284.18 L118.02,284.25 L119.02,284.32 L120.02,284.39 L121.01,284.47 L122.01,284.55 L123.00,284.64 L124.00,284.74 L125.00,284.84 L125.99,284.95 L126.99,285.06 L127.98,285.18 L128.98,285.31 L129.98,285.45 L130.97,285.59 L131.97,285.75 L132.97,285.91 L133.96,286.09 L134.96,286.28 L135.95,286.47 L136.95,286.68 L137.95,286.91 L138.94,287.14 L139.94,287.40 L140.94,287.66 L141.93,287.95 L142.93,288.25 L143.92,288.57 L144.92,288.90 L145.92,289.26 L146.91,289.64 L147.91,290.04 L148.91,290.47 L149.90,290.92 L150.90,291.39 L151.89,291.89 L152.89,292.43 L153.89,292.99 L154.88,293.58 L155.88,294.20 L156.88,294.86 L157.87,295.55 L158.87,296.28 L159.86,297.05 L160.86,297.86 L161.86,298.70 L162.85,299.59 L163.85,300.53 L164.85,301.50 L165.84,302.52 L166.84,303.59 L167.83,304.71 L168.83,305.87 L169.83,307.08 L170.82,308.35 L171.82,309.66 L172.82,311.02 L173.81,312.43 L174.81,313.89 L175.80,315.41 L176.80,316.97 L177.80,318.57 L178.79,320.23 L179.79,321.93 L180.78,323.67 L181.78,325.46 L182.78,327.28 L183.77,329.14 L184.77,331.04 L185.77,332.96 L186.76,334.92 L187.76,336.90 L188.75,338.90 L189.75,340.91 L190.75,342.94 L191.74,344.98 L192.74,347.03 L193.74,349.07 L194.73,351.11 L195.73,353.15 L196.72,355.17 L197.72,357.18 L198.72,359.17 L199.71,361.14 L200.71,363.08 L201.71,364.99 L202.70,366.87 L203.70,368.71 L204.69,370.51 L205.69,372.28 L206.69,374.00 L207.68,375.67 L208.68,377.31 L209.68,378.89 L210.67,380.42 L211.67,381.91 L212.66,383.35 L213.66,384.73 L214.66,386.07 L215.65,387.36 L216.65,388.60 L217.65,389.78 L218.64,390.92 L219.64,392.01 L220.63,393.06 L221.63,394.06 L222.63,395.01 L223.62,395.92 L224.62,396.79 L225.62,397.62 L226.61,398.40 L227.61,399.15 L228.60,399.86 L229.60,400.54" fill="none" stroke="#aa0532" stroke-width="1.5" clip-path="url(#clip71_409)"/>
<path d="M71.20,283.36 L72.20,283.36 L73.19,283.36 L74.19,283.36 L75.18,283.36 L76.18,283.36 L77.18,283.36 L78.17,283.36 L79.17,283.37 L80.17,283.37 L81.16,283.37 L82.16,283.37 L83.15,283.37 L84.15,283.37 L85.15,283.38 L86.14,283.38 L87.14,283.38 L88.14,283.38 L89.13,283.39 L90.13,283.39 L91.12,283.39 L92.12,283.40 L93.12,283.40 L94.11,283.40 L95.11,283.41 L96.11,283.41 L97.10,283.41 L98.10,283.42 L99.09,283.42 L100.09,283.43 L101.09,283.43 L102.08,283.44 L103.08,283.44 L104.08,283.45 L105.07,283.46 L106.07,283.46 L107.06,283.47 L108.06,283.48 L109.06,283.49 L110.05,283.50 L111.05,283.51 L112.05,283.51 L113.04,283.52 L114.04,283.54 L115.03,283.55 L116.03,283.56 L117.03,283.57 L118.02,283.59 L119.02,283.60 L120.02,283.61 L121.01,283.63 L122.01,283.65 L123.00,283.67 L124.00,283.68 L125.00,283.70 L125.99,283.73 L126.99,283.75 L127.98,283.77 L128.98,283.80 L129.98,283.82 L130.97,283.85 L131.97,283.88 L132.97,283.91 L133.96,283.94 L134.96,283.98 L135.95,284.02 L136.95,284.06 L137.95,284.10 L138.94,284.14 L139.94,284.19 L140.94,284.24 L141.93,284.29 L142.93,284.34 L143.92,284.40 L144.92,284.46 L145.92,284.52 L146.91,284.59 L147.91,284.66 L148.91,284.74 L149.90,284.82 L150.90,284.91 L151.89,284.99 L152.89,285.09 L153.89,285.19 L154.88,285.30 L155.88,285.41 L156.88,285.52 L157.87,285.65 L158.87,285.78 L159.86,285.92 L160.86,286.07 L161.86,286.22 L162.85,286.38 L163.85,286.56 L164.85,286.74 L165.84,286.93 L166.84,287.13 L167.83,287.34 L168.83,287.57 L169.83,287.81 L170.82,288.06 L171.82,288.32 L172.82,288.60 L173.81,288.89 L174.81,289.20 L175.80,289.52 L176.80,289.86 L177.80,290.22 L178.79,290.60 L179.79,291.00 L180.78,291.42 L181.78,291.86 L182.78,292.32 L183.77,292.81 L184.77,293.32 L185.77,293.85 L186.76,294.41 L187.76,295.00 L188.75,295.62 L189.75,296.27 L190.75,296.95 L191.74,297.66 L192.74,298.40 L193.74,299.18 L194.73,299.99 L195.73,300.84 L196.72,301.72 L197.72,302.65 L198.72,303.61 L199.71,304.61 L200.71,305.66 L201.71,306.74 L202.70,307.87 L203.70,309.04 L204.69,310.26 L205.69,311.51 L206.69,312.82 L207.68,314.16 L208.68,315.56 L209.68,316.99 L210.67,318.48 L211.67,320.00 L212.66,321.57 L213.66,323.19 L214.66,324.84 L215.65,326.54 L216.65,328.27 L217.65,330.05 L218.64,331.86 L219.64,333.71 L220.63,335.59 L221.63,337.50 L222.63,339.44 L223.62,341.41 L224.62,343.40 L225.62,345.41 L226.61,347.44 L227.61,349.48 L228.60,351.54 L229.60,353.60" fill="none" stroke="#6cb33e" stroke-width="1.5" clip-path="url(#clip71_409)"/>
<line x1="229.60" y1="339.99" x2="229.60" y2="357.49" stroke="#33538f" stroke-width="1.2" />
<line x1="225.40" y1="339.99" x2="233.80" y2="339.99" stroke="#33538f" stroke-width="1.2" />
<line x1="225.40" y1="357.49" x2="233.80" y2="357.49" stroke="#33538f" stroke-width="1.2" />
<polygon points="67.60,285.75 74.80,285.75 71.20,279.85" fill="#203f7e"/>
<polygon points="105.00,288.92 112.20,288.92 108.60,283.02" fill="#203f7e"/>
<polygon points="135.25,290.82 142.45,290.82 138.85,284.92" fill="#203f7e"/>
<polygon points="165.50,295.90 172.70,295.90 169.10,289.99" fill="#203f7e"/>
<polygon points="195.75,305.28 202.95,305.28 199.35,299.38" fill="#203f7e"/>
<polygon points="226.00,351.69 233.20,351.69 229.60,345.78" fill="#203f7e"/>
<line x1="138.85" y1="282.17" x2="138.85" y2="293.58" stroke="#bb2a52" stroke-width="1.2" />
<line x1="134.65" y1="282.17" x2="143.05" y2="282.17" stroke="#bb2a52" stroke-width="1.2" />
<line x1="134.65" y1="293.58" x2="143.05" y2="293.58" stroke="#bb2a52" stroke-width="1.2" />
<line x1="169.10" y1="293.58" x2="169.10" y2="323.00" stroke="#bb2a52" stroke-width="1.2" />
<line x1="164.90" y1="293.58" x2="173.30" y2="293.58" stroke="#bb2a52" stroke-width="1.2" />
<line x1="164.90" y1="323.00" x2="173.30" y2="323.00" stroke="#bb2a52" stroke-width="1.2" />
<line x1="199.35" y1="340.37" x2="199.35" y2="377.39" stroke="#bb2a52" stroke-width="1.2" />
<line x1="195.15" y1="340.37" x2="203.55" y2="340.37" stroke="#bb2a52" stroke-width="1.2" />
<line x1="195.15" y1="377.39" x2="203.55" y2="377.39" stroke="#bb2a52" stroke-width="1.2" />
<rect x="67.50" y="279.10" width="7.4" height="7.4" fill="#aa0532"/>
<rect x="104.90" y="279.10" width="7.4" height="7.4" fill="#aa0532"/>
<rect x="135.15" y="284.17" width="7.4" height="7.4" fill="#aa0532"/>
<rect x="165.40" y="304.59" width="7.4" height="7.4" fill="#aa0532"/>
<rect x="195.65" y="355.18" width="7.4" height="7.4" fill="#aa0532"/>
<rect x="225.90" y="404.00" width="7.4" height="7.4" fill="#aa0532"/>
<line x1="169.10" y1="288.38" x2="169.10" y2="297.51" stroke="#7cbd55" stroke-width="1.2" />
<line x1="164.90" y1="288.38" x2="173.30" y2="288.38" stroke="#7cbd55" stroke-width="1.2" />
<line x1="164.90" y1="297.51" x2="173.30" y2="297.51" stroke="#7cbd55" stroke-width="1.2" />
<line x1="199.35" y1="294.21" x2="199.35" y2="310.44" stroke="#7cbd55" stroke-width="1.2" />
<line x1="195.15" y1="294.21" x2="203.55" y2="294.21" stroke="#7cbd55" stroke-width="1.2" />
<line x1="195.15" y1="310.44" x2="203.55" y2="310.44" stroke="#7cbd55" stroke-width="1.2" />
<line x1="229.60" y1="342.40" x2="229.60" y2="370.29" stroke="#7cbd55" stroke-width="1.2" />
<line x1="225.40" y1="342.40" x2="233.80" y2="342.40" stroke="#7cbd55" stroke-width="1.2" />
<line x1="225.40" y1="370.29" x2="233.80" y2="370.29" stroke="#7cbd55" stroke-width="1.2" />
<circle cx="71.20" cy="282.80" r="3.55" fill="#6cb33e"/>
<circle cx="108.60" cy="282.80" r="3.55" fill="#6cb33e"/>
<circle cx="138.85" cy="287.87" r="3.55" fill="#6cb33e"/>
<circle cx="169.10" cy="292.94" r="3.55" fill="#6cb33e"/>
<circle cx="199.35" cy="302.33" r="3.55" fill="#6cb33e"/>
<circle cx="229.60" cy="356.34" r="3.55" fill="#6cb33e"/>
<line x1="319.20" y1="346.20" x2="478.60" y2="346.20" stroke="#231f20" stroke-width="1" stroke-dasharray="1.2 1.3"/>
<line x1="319.20" y1="250.50" x2="319.20" y2="412.70" stroke="#1a1a1a" stroke-width="1.5" />
<line x1="318.60" y1="409.30" x2="333.60" y2="409.30" stroke="#1a1a1a" stroke-width="1.5" />
<line x1="343.30" y1="409.30" x2="478.20" y2="409.30" stroke="#1a1a1a" stroke-width="1.5" />
<line x1="333.60" y1="405.90" x2="333.60" y2="412.70" stroke="#1a1a1a" stroke-width="1.2" />
<line x1="343.30" y1="405.90" x2="343.30" y2="412.70" stroke="#1a1a1a" stroke-width="1.2" />
<line x1="377.10" y1="409.30" x2="377.10" y2="412.30" stroke="#1a1a1a" stroke-width="1.2" />
<line x1="410.60" y1="409.30" x2="410.60" y2="412.30" stroke="#1a1a1a" stroke-width="1.2" />
<line x1="444.10" y1="409.30" x2="444.10" y2="412.30" stroke="#1a1a1a" stroke-width="1.2" />
<line x1="477.60" y1="409.30" x2="477.60" y2="412.30" stroke="#1a1a1a" stroke-width="1.2" />
<line x1="315.80" y1="283.10" x2="319.20" y2="283.10" stroke="#1a1a1a" stroke-width="1.2" />
<text x="312.10" y="285.10" font-size="9.8" text-anchor="end" textLength="14.1" lengthAdjust="spacingAndGlyphs" >100</text>
<line x1="315.80" y1="346.20" x2="319.20" y2="346.20" stroke="#1a1a1a" stroke-width="1.2" />
<text x="312.10" y="348.20" font-size="9.8" text-anchor="end" textLength="9.6" lengthAdjust="spacingAndGlyphs" >50</text>
<line x1="315.80" y1="409.30" x2="319.20" y2="409.30" stroke="#1a1a1a" stroke-width="1.2" />
<text x="312.10" y="411.30" font-size="9.8" text-anchor="end" textLength="4.7" lengthAdjust="spacingAndGlyphs" >0</text>
<text x="336.10" y="424.20" font-size="9.6" textLength="9.0" lengthAdjust="spacingAndGlyphs">10</text>
<text x="345.40" y="420.50" font-size="6.6" textLength="6.0" lengthAdjust="spacingAndGlyphs">-3</text>
<text x="403.40" y="424.20" font-size="9.6" textLength="9.0" lengthAdjust="spacingAndGlyphs">10</text>
<text x="412.70" y="420.50" font-size="6.6" textLength="6.0" lengthAdjust="spacingAndGlyphs">-1</text>
<text x="477.60" y="424.20" font-size="9.6" text-anchor="middle" textLength="9.4" lengthAdjust="spacingAndGlyphs" >10</text>
<text x="400.50" y="439.40" font-size="11" class="cd" text-anchor="middle" textLength="37.6" lengthAdjust="spacingAndGlyphs">NAV (<tspan font-style="italic">μM</tspan>)</text>
<text x="278.00" y="330.50" font-size="11.5" text-anchor="middle" textLength="120.8" lengthAdjust="spacingAndGlyphs" transform="rotate(-90 278.00 330.50)" class="cd">% viability normalized to DMSO</text>
<text x="290.30" y="329.80" font-size="11.5" text-anchor="middle" textLength="74.3" lengthAdjust="spacingAndGlyphs" transform="rotate(-90 290.30 329.80)" class="cd">(CellTiter-Glo assay)</text>
<clipPath id="clip319_409"><rect x="0" y="0" width="334.10" height="668"/><rect x="342.80" y="0" width="300" height="668"/></clipPath>
<path d="M319.20,282.41 L320.20,282.41 L321.19,282.41 L322.19,282.41 L323.18,282.41 L324.18,282.41 L325.18,282.42 L326.17,282.42 L327.17,282.42 L328.17,282.42 L329.16,282.42 L330.16,282.42 L331.15,282.42 L332.15,282.42 L333.15,282.43 L334.14,282.43 L335.14,282.43 L336.14,282.43 L337.13,282.43 L338.13,282.43 L339.12,282.44 L340.12,282.44 L341.12,282.44 L342.11,282.44 L343.11,282.45 L344.11,282.45 L345.10,282.45 L346.10,282.46 L347.09,282.46 L348.09,282.46 L349.09,282.47 L350.08,282.47 L351.08,282.47 L352.08,282.48 L353.07,282.48 L354.07,282.49 L355.06,282.49 L356.06,282.50 L357.06,282.51 L358.05,282.51 L359.05,282.52 L360.05,282.53 L361.04,282.53 L362.04,282.54 L363.03,282.55 L364.03,282.56 L365.03,282.57 L366.02,282.58 L367.02,282.59 L368.02,282.60 L369.01,282.61 L370.01,282.63 L371.00,282.64 L372.00,282.65 L373.00,282.67 L373.99,282.68 L374.99,282.70 L375.98,282.72 L376.98,282.74 L377.98,282.76 L378.97,282.78 L379.97,282.80 L380.97,282.82 L381.96,282.85 L382.96,282.87 L383.95,282.90 L384.95,282.93 L385.95,282.96 L386.94,283.00 L387.94,283.03 L388.94,283.07 L389.93,283.11 L390.93,283.15 L391.92,283.19 L392.92,283.24 L393.92,283.29 L394.91,283.34 L395.91,283.39 L396.91,283.45 L397.90,283.51 L398.90,283.57 L399.89,283.64 L400.89,283.72 L401.89,283.79 L402.88,283.87 L403.88,283.96 L404.88,284.05 L405.87,284.14 L406.87,284.24 L407.86,284.35 L408.86,284.46 L409.86,284.58 L410.85,284.70 L411.85,284.83 L412.85,284.97 L413.84,285.12 L414.84,285.27 L415.83,285.44 L416.83,285.61 L417.83,285.79 L418.82,285.98 L419.82,286.18 L420.82,286.40 L421.81,286.62 L422.81,286.86 L423.80,287.10 L424.80,287.37 L425.80,287.64 L426.79,287.93 L427.79,288.23 L428.78,288.55 L429.78,288.89 L430.78,289.24 L431.77,289.61 L432.77,290.00 L433.77,290.40 L434.76,290.83 L435.76,291.27 L436.75,291.74 L437.75,292.23 L438.75,292.74 L439.74,293.27 L440.74,293.83 L441.74,294.41 L442.73,295.02 L443.73,295.65 L444.72,296.30 L445.72,296.99 L446.72,297.70 L447.71,298.43 L448.71,299.20 L449.71,299.99 L450.70,300.81 L451.70,301.66 L452.69,302.53 L453.69,303.44 L454.69,304.37 L455.68,305.33 L456.68,306.31 L457.68,307.32 L458.67,308.36 L459.67,309.42 L460.66,310.51 L461.66,311.62 L462.66,312.75 L463.65,313.90 L464.65,315.07 L465.65,316.26 L466.64,317.47 L467.64,318.69 L468.63,319.92 L469.63,321.17 L470.63,322.42 L471.62,323.68 L472.62,324.95 L473.62,326.22 L474.61,327.49 L475.61,328.76 L476.60,330.03 L477.60,331.29" fill="none" stroke="#203f7e" stroke-width="1.5" clip-path="url(#clip319_409)"/>
<path d="M319.20,283.89 L320.20,283.89 L321.19,283.89 L322.19,283.89 L323.18,283.89 L324.18,283.89 L325.18,283.89 L326.17,283.89 L327.17,283.89 L328.17,283.89 L329.16,283.89 L330.16,283.89 L331.15,283.89 L332.15,283.89 L333.15,283.89 L334.14,283.89 L335.14,283.89 L336.14,283.89 L337.13,283.89 L338.13,283.89 L339.12,283.89 L340.12,283.89 L341.12,283.89 L342.11,283.89 L343.11,283.89 L344.11,283.89 L345.10,283.89 L346.10,283.89 L347.09,283.89 L348.09,283.89 L349.09,283.89 L350.08,283.89 L351.08,283.89 L352.08,283.89 L353.07,283.89 L354.07,283.89 L355.06,283.89 L356.06,283.89 L357.06,283.89 L358.05,283.89 L359.05,283.89 L360.05,283.89 L361.04,283.89 L362.04,283.89 L363.03,283.89 L364.03,283.89 L365.03,283.89 L366.02,283.89 L367.02,283.89 L368.02,283.89 L369.01,283.89 L370.01,283.89 L371.00,283.89 L372.00,283.89 L373.00,283.89 L373.99,283.89 L374.99,283.89 L375.98,283.89 L376.98,283.89 L377.98,283.89 L378.97,283.89 L379.97,283.90 L380.97,283.90 L381.96,283.90 L382.96,283.90 L383.95,283.90 L384.95,283.90 L385.95,283.90 L386.94,283.90 L387.94,283.90 L388.94,283.90 L389.93,283.91 L390.93,283.91 L391.92,283.91 L392.92,283.91 L393.92,283.92 L394.91,283.92 L395.91,283.93 L396.91,283.93 L397.90,283.94 L398.90,283.95 L399.89,283.95 L400.89,283.96 L401.89,283.98 L402.88,283.99 L403.88,284.01 L404.88,284.02 L405.87,284.04 L406.87,284.07 L407.86,284.10 L408.86,284.13 L409.86,284.17 L410.85,284.21 L411.85,284.27 L412.85,284.33 L413.84,284.39 L414.84,284.47 L415.83,284.57 L416.83,284.68 L417.83,284.80 L418.82,284.95 L419.82,285.11 L420.82,285.31 L421.81,285.53 L422.81,285.79 L423.80,286.09 L424.80,286.44 L425.80,286.84 L426.79,287.30 L427.79,287.83 L428.78,288.43 L429.78,289.13 L430.78,289.94 L431.77,290.85 L432.77,291.90 L433.77,293.09 L434.76,294.44 L435.76,295.97 L436.75,297.70 L437.75,299.64 L438.75,301.80 L439.74,304.21 L440.74,306.87 L441.74,309.80 L442.73,312.99 L443.73,316.44 L444.72,320.15 L445.72,324.10 L446.72,328.26 L447.71,332.60 L448.71,337.09 L449.71,341.67 L450.70,346.31 L451.70,350.95 L452.69,355.53 L453.69,360.02 L454.69,364.35 L455.68,368.51 L456.68,372.45 L457.68,376.15 L458.67,379.60 L459.67,382.79 L460.66,385.70 L461.66,388.36 L462.66,390.76 L463.65,392.92 L464.65,394.85 L465.65,396.57 L466.64,398.10 L467.64,399.45 L468.63,400.64 L469.63,401.68 L470.63,402.59 L471.62,403.39 L472.62,404.09 L473.62,404.69 L474.61,405.22 L475.61,405.68 L476.60,406.08 L477.60,406.42" fill="none" stroke="#aa0532" stroke-width="1.5" clip-path="url(#clip319_409)"/>
<path d="M319.20,283.14 L320.20,283.14 L321.19,283.14 L322.19,283.14 L323.18,283.14 L324.18,283.14 L325.18,283.15 L326.17,283.15 L327.17,283.15 L328.17,283.15 L329.16,283.15 L330.16,283.15 L331.15,283.16 L332.15,283.16 L333.15,283.16 L334.14,283.17 L335.14,283.17 L336.14,283.17 L337.13,283.18 L338.13,283.18 L339.12,283.18 L340.12,283.19 L341.12,283.20 L342.11,283.20 L343.11,283.21 L344.11,283.22 L345.10,283.22 L346.10,283.23 L347.09,283.24 L348.09,283.25 L349.09,283.26 L350.08,283.28 L351.08,283.29 L352.08,283.30 L353.07,283.32 L354.07,283.34 L355.06,283.36 L356.06,283.38 L357.06,283.40 L358.05,283.42 L359.05,283.45 L360.05,283.48 L361.04,283.51 L362.04,283.55 L363.03,283.59 L364.03,283.63 L365.03,283.67 L366.02,283.72 L367.02,283.78 L368.02,283.84 L369.01,283.90 L370.01,283.97 L371.00,284.05 L372.00,284.13 L373.00,284.22 L373.99,284.32 L374.99,284.43 L375.98,284.54 L376.98,284.67 L377.98,284.81 L378.97,284.96 L379.97,285.13 L380.97,285.31 L381.96,285.50 L382.96,285.71 L383.95,285.94 L384.95,286.19 L385.95,286.47 L386.94,286.76 L387.94,287.09 L388.94,287.43 L389.93,287.81 L390.93,288.22 L391.92,288.67 L392.92,289.15 L393.92,289.67 L394.91,290.23 L395.91,290.84 L396.91,291.50 L397.90,292.21 L398.90,292.97 L399.89,293.80 L400.89,294.68 L401.89,295.63 L402.88,296.65 L403.88,297.74 L404.88,298.90 L405.87,300.15 L406.87,301.47 L407.86,302.88 L408.86,304.38 L409.86,305.97 L410.85,307.64 L411.85,309.41 L412.85,311.27 L413.84,313.22 L414.84,315.26 L415.83,317.39 L416.83,319.60 L417.83,321.90 L418.82,324.27 L419.82,326.71 L420.82,329.22 L421.81,331.79 L422.81,334.41 L423.80,337.06 L424.80,339.75 L425.80,342.46 L426.79,345.18 L427.79,347.90 L428.78,350.62 L429.78,353.31 L430.78,355.97 L431.77,358.60 L432.77,361.17 L433.77,363.69 L434.76,366.15 L435.76,368.54 L436.75,370.85 L437.75,373.07 L438.75,375.22 L439.74,377.28 L440.74,379.24 L441.74,381.12 L442.73,382.90 L443.73,384.59 L444.72,386.20 L445.72,387.71 L446.72,389.14 L447.71,390.48 L448.71,391.74 L449.71,392.92 L450.70,394.02 L451.70,395.05 L452.69,396.01 L453.69,396.91 L454.69,397.74 L455.68,398.52 L456.68,399.24 L457.68,399.90 L458.67,400.52 L459.67,401.09 L460.66,401.62 L461.66,402.11 L462.66,402.56 L463.65,402.98 L464.65,403.36 L465.65,403.72 L466.64,404.04 L467.64,404.34 L468.63,404.62 L469.63,404.88 L470.63,405.11 L471.62,405.33 L472.62,405.52 L473.62,405.71 L474.61,405.87 L475.61,406.03 L476.60,406.17 L477.60,406.30" fill="none" stroke="#6cb33e" stroke-width="1.5" clip-path="url(#clip319_409)"/>
<line x1="356.60" y1="273.63" x2="356.60" y2="287.52" stroke="#33538f" stroke-width="1.2" />
<line x1="352.40" y1="273.63" x2="360.80" y2="273.63" stroke="#33538f" stroke-width="1.2" />
<line x1="352.40" y1="287.52" x2="360.80" y2="287.52" stroke="#33538f" stroke-width="1.2" />
<line x1="386.85" y1="277.42" x2="386.85" y2="288.78" stroke="#33538f" stroke-width="1.2" />
<line x1="382.65" y1="277.42" x2="391.05" y2="277.42" stroke="#33538f" stroke-width="1.2" />
<line x1="382.65" y1="288.78" x2="391.05" y2="288.78" stroke="#33538f" stroke-width="1.2" />
<line x1="417.10" y1="277.42" x2="417.10" y2="288.78" stroke="#33538f" stroke-width="1.2" />
<line x1="412.90" y1="277.42" x2="421.30" y2="277.42" stroke="#33538f" stroke-width="1.2" />
<line x1="412.90" y1="288.78" x2="421.30" y2="288.78" stroke="#33538f" stroke-width="1.2" />
<line x1="447.35" y1="290.67" x2="447.35" y2="303.29" stroke="#33538f" stroke-width="1.2" />
<line x1="443.15" y1="290.67" x2="451.55" y2="290.67" stroke="#33538f" stroke-width="1.2" />
<line x1="443.15" y1="303.29" x2="451.55" y2="303.29" stroke="#33538f" stroke-width="1.2" />
<line x1="477.60" y1="326.51" x2="477.60" y2="336.86" stroke="#33538f" stroke-width="1.2" />
<line x1="473.40" y1="326.51" x2="481.80" y2="326.51" stroke="#33538f" stroke-width="1.2" />
<line x1="473.40" y1="336.86" x2="481.80" y2="336.86" stroke="#33538f" stroke-width="1.2" />
<polygon points="315.60,286.05 322.80,286.05 319.20,280.15" fill="#203f7e"/>
<polygon points="353.00,283.53 360.20,283.53 356.60,277.62" fill="#203f7e"/>
<polygon points="383.25,286.05 390.45,286.05 386.85,280.15" fill="#203f7e"/>
<polygon points="413.50,286.05 420.70,286.05 417.10,280.15" fill="#203f7e"/>
<polygon points="443.75,299.93 450.95,299.93 447.35,294.03" fill="#203f7e"/>
<polygon points="474.00,334.64 481.20,334.64 477.60,328.74" fill="#203f7e"/>
<line x1="417.10" y1="319.19" x2="417.10" y2="328.53" stroke="#7cbd55" stroke-width="1.2" />
<line x1="412.90" y1="319.19" x2="421.30" y2="319.19" stroke="#7cbd55" stroke-width="1.2" />
<line x1="412.90" y1="328.53" x2="421.30" y2="328.53" stroke="#7cbd55" stroke-width="1.2" />
<circle cx="319.20" cy="283.10" r="3.55" fill="#6cb33e"/>
<circle cx="356.60" cy="283.10" r="3.55" fill="#6cb33e"/>
<circle cx="386.85" cy="288.15" r="3.55" fill="#6cb33e"/>
<circle cx="417.10" cy="323.86" r="3.55" fill="#6cb33e"/>
<circle cx="447.35" cy="389.11" r="3.55" fill="#6cb33e"/>
<circle cx="477.60" cy="408.67" r="3.55" fill="#6cb33e"/>
<line x1="417.10" y1="284.74" x2="417.10" y2="297.87" stroke="#bb2a52" stroke-width="1.2" />
<line x1="412.90" y1="284.74" x2="421.30" y2="284.74" stroke="#bb2a52" stroke-width="1.2" />
<line x1="412.90" y1="297.87" x2="421.30" y2="297.87" stroke="#bb2a52" stroke-width="1.2" />
<line x1="447.35" y1="325.38" x2="447.35" y2="331.69" stroke="#bb2a52" stroke-width="1.2" />
<line x1="443.15" y1="325.38" x2="451.55" y2="325.38" stroke="#bb2a52" stroke-width="1.2" />
<line x1="443.15" y1="331.69" x2="451.55" y2="331.69" stroke="#bb2a52" stroke-width="1.2" />
<rect x="315.50" y="279.40" width="7.4" height="7.4" fill="#aa0532"/>
<rect x="352.90" y="278.14" width="7.4" height="7.4" fill="#aa0532"/>
<rect x="383.15" y="279.40" width="7.4" height="7.4" fill="#aa0532"/>
<rect x="413.40" y="287.60" width="7.4" height="7.4" fill="#aa0532"/>
<rect x="443.65" y="324.83" width="7.4" height="7.4" fill="#aa0532"/>
<rect x="473.90" y="403.08" width="7.4" height="7.4" fill="#aa0532"/>
<line x1="70.80" y1="563.80" x2="230.20" y2="563.80" stroke="#231f20" stroke-width="1" stroke-dasharray="1.2 1.3"/>
<line x1="70.80" y1="468.50" x2="70.80" y2="630.20" stroke="#1a1a1a" stroke-width="1.5" />
<line x1="70.20" y1="626.80" x2="85.20" y2="626.80" stroke="#1a1a1a" stroke-width="1.5" />
<line x1="94.90" y1="626.80" x2="229.80" y2="626.80" stroke="#1a1a1a" stroke-width="1.5" />
<line x1="85.20" y1="623.40" x2="85.20" y2="630.20" stroke="#1a1a1a" stroke-width="1.2" />
<line x1="94.90" y1="623.40" x2="94.90" y2="630.20" stroke="#1a1a1a" stroke-width="1.2" />
<line x1="128.70" y1="626.80" x2="128.70" y2="629.80" stroke="#1a1a1a" stroke-width="1.2" />
<line x1="162.20" y1="626.80" x2="162.20" y2="629.80" stroke="#1a1a1a" stroke-width="1.2" />
<line x1="195.70" y1="626.80" x2="195.70" y2="629.80" stroke="#1a1a1a" stroke-width="1.2" />
<line x1="229.20" y1="626.80" x2="229.20" y2="629.80" stroke="#1a1a1a" stroke-width="1.2" />
<line x1="67.40" y1="500.80" x2="70.80" y2="500.80" stroke="#1a1a1a" stroke-width="1.2" />
<text x="63.70" y="502.80" font-size="9.8" text-anchor="end" textLength="14.1" lengthAdjust="spacingAndGlyphs" >100</text>
<line x1="67.40" y1="563.80" x2="70.80" y2="563.80" stroke="#1a1a1a" stroke-width="1.2" />
<text x="63.70" y="565.80" font-size="9.8" text-anchor="end" textLength="9.6" lengthAdjust="spacingAndGlyphs" >50</text>
<line x1="67.40" y1="626.80" x2="70.80" y2="626.80" stroke="#1a1a1a" stroke-width="1.2" />
<text x="63.70" y="628.80" font-size="9.8" text-anchor="end" textLength="4.7" lengthAdjust="spacingAndGlyphs" >0</text>
<text x="87.70" y="641.70" font-size="9.6" textLength="9.0" lengthAdjust="spacingAndGlyphs">10</text>
<text x="97.00" y="638.00" font-size="6.6" textLength="6.0" lengthAdjust="spacingAndGlyphs">-3</text>
<text x="155.00" y="641.70" font-size="9.6" textLength="9.0" lengthAdjust="spacingAndGlyphs">10</text>
<text x="164.30" y="638.00" font-size="6.6" textLength="6.0" lengthAdjust="spacingAndGlyphs">-1</text>
<text x="229.20" y="641.70" font-size="9.6" text-anchor="middle" textLength="9.4" lengthAdjust="spacingAndGlyphs" >10</text>
<text x="152.10" y="656.90" font-size="11" class="cd" text-anchor="middle" textLength="37.6" lengthAdjust="spacingAndGlyphs">VEN (<tspan font-style="italic">μM</tspan>)</text>
<text x="29.60" y="548.25" font-size="11.5" text-anchor="middle" textLength="120.8" lengthAdjust="spacingAndGlyphs" transform="rotate(-90 29.60 548.25)" class="cd">% viability normalized to DMSO</text>
<text x="41.90" y="547.55" font-size="11.5" text-anchor="middle" textLength="74.3" lengthAdjust="spacingAndGlyphs" transform="rotate(-90 41.90 547.55)" class="cd">(CellTiter-Glo assay)</text>
<clipPath id="clip70_626"><rect x="0" y="0" width="85.70" height="668"/><rect x="94.40" y="0" width="300" height="668"/></clipPath>
<path d="M70.80,500.49 L71.80,500.49 L72.79,500.49 L73.79,500.49 L74.78,500.49 L75.78,500.49 L76.78,500.49 L77.77,500.49 L78.77,500.49 L79.77,500.49 L80.76,500.49 L81.76,500.49 L82.75,500.49 L83.75,500.49 L84.75,500.49 L85.74,500.49 L86.74,500.49 L87.74,500.49 L88.73,500.49 L89.73,500.49 L90.72,500.49 L91.72,500.49 L92.72,500.49 L93.71,500.49 L94.71,500.49 L95.71,500.49 L96.70,500.49 L97.70,500.49 L98.69,500.49 L99.69,500.49 L100.69,500.49 L101.68,500.49 L102.68,500.49 L103.68,500.49 L104.67,500.49 L105.67,500.49 L106.66,500.49 L107.66,500.49 L108.66,500.49 L109.65,500.49 L110.65,500.49 L111.65,500.49 L112.64,500.49 L113.64,500.49 L114.63,500.49 L115.63,500.49 L116.63,500.49 L117.62,500.49 L118.62,500.49 L119.62,500.49 L120.61,500.49 L121.61,500.49 L122.60,500.49 L123.60,500.49 L124.60,500.49 L125.59,500.49 L126.59,500.49 L127.58,500.49 L128.58,500.49 L129.58,500.49 L130.57,500.49 L131.57,500.49 L132.57,500.49 L133.56,500.49 L134.56,500.49 L135.55,500.49 L136.55,500.49 L137.55,500.49 L138.54,500.49 L139.54,500.49 L140.54,500.49 L141.53,500.49 L142.53,500.49 L143.52,500.49 L144.52,500.49 L145.52,500.49 L146.51,500.49 L147.51,500.49 L148.51,500.49 L149.50,500.49 L150.50,500.49 L151.49,500.49 L152.49,500.49 L153.49,500.49 L154.48,500.49 L155.48,500.49 L156.48,500.49 L157.47,500.50 L158.47,500.50 L159.46,500.50 L160.46,500.50 L161.46,500.50 L162.45,500.50 L163.45,500.50 L164.45,500.51 L165.44,500.51 L166.44,500.51 L167.43,500.52 L168.43,500.52 L169.43,500.53 L170.42,500.53 L171.42,500.54 L172.42,500.55 L173.41,500.56 L174.41,500.58 L175.40,500.59 L176.40,500.61 L177.40,500.63 L178.39,500.66 L179.39,500.69 L180.38,500.73 L181.38,500.78 L182.38,500.83 L183.37,500.89 L184.37,500.97 L185.37,501.06 L186.36,501.17 L187.36,501.29 L188.35,501.44 L189.35,501.62 L190.35,501.83 L191.34,502.08 L192.34,502.37 L193.34,502.72 L194.33,503.13 L195.33,503.61 L196.32,504.18 L197.32,504.86 L198.32,505.64 L199.31,506.56 L200.31,507.64 L201.31,508.89 L202.30,510.34 L203.30,512.01 L204.29,513.93 L205.29,516.12 L206.29,518.62 L207.28,521.42 L208.28,524.56 L209.28,528.03 L210.27,531.83 L211.27,535.95 L212.26,540.37 L213.26,545.03 L214.26,549.89 L215.25,554.89 L216.25,559.95 L217.25,564.99 L218.24,569.96 L219.24,574.76 L220.23,579.36 L221.23,583.69 L222.23,587.72 L223.22,591.42 L224.22,594.80 L225.22,597.83 L226.21,600.54 L227.21,602.94 L228.20,605.06 L229.20,606.90" fill="none" stroke="#6cb33e" stroke-width="1.5" clip-path="url(#clip70_626)"/>
<path d="M70.80,500.64 L71.80,500.64 L72.79,500.64 L73.79,500.64 L74.78,500.64 L75.78,500.64 L76.78,500.64 L77.77,500.64 L78.77,500.64 L79.77,500.64 L80.76,500.64 L81.76,500.64 L82.75,500.64 L83.75,500.64 L84.75,500.64 L85.74,500.64 L86.74,500.64 L87.74,500.64 L88.73,500.64 L89.73,500.64 L90.72,500.64 L91.72,500.64 L92.72,500.64 L93.71,500.64 L94.71,500.64 L95.71,500.64 L96.70,500.64 L97.70,500.64 L98.69,500.64 L99.69,500.64 L100.69,500.64 L101.68,500.64 L102.68,500.64 L103.68,500.64 L104.67,500.64 L105.67,500.64 L106.66,500.64 L107.66,500.64 L108.66,500.64 L109.65,500.64 L110.65,500.64 L111.65,500.64 L112.64,500.64 L113.64,500.64 L114.63,500.64 L115.63,500.64 L116.63,500.64 L117.62,500.64 L118.62,500.64 L119.62,500.64 L120.61,500.64 L121.61,500.64 L122.60,500.64 L123.60,500.64 L124.60,500.64 L125.59,500.64 L126.59,500.64 L127.58,500.64 L128.58,500.64 L129.58,500.64 L130.57,500.64 L131.57,500.64 L132.57,500.64 L133.56,500.64 L134.56,500.64 L135.55,500.64 L136.55,500.64 L137.55,500.64 L138.54,500.64 L139.54,500.64 L140.54,500.64 L141.53,500.64 L142.53,500.64 L143.52,500.64 L144.52,500.64 L145.52,500.64 L146.51,500.64 L147.51,500.64 L148.51,500.64 L149.50,500.64 L150.50,500.64 L151.49,500.64 L152.49,500.64 L153.49,500.64 L154.48,500.64 L155.48,500.64 L156.48,500.64 L157.47,500.64 L158.47,500.64 L159.46,500.64 L160.46,500.64 L161.46,500.64 L162.45,500.64 L163.45,500.64 L164.45,500.64 L165.44,500.64 L166.44,500.64 L167.43,500.64 L168.43,500.64 L169.43,500.64 L170.42,500.64 L171.42,500.64 L172.42,500.64 L173.41,500.64 L174.41,500.64 L175.40,500.64 L176.40,500.64 L177.40,500.64 L178.39,500.64 L179.39,500.64 L180.38,500.64 L181.38,500.64 L182.38,500.64 L183.37,500.64 L184.37,500.64 L185.37,500.64 L186.36,500.64 L187.36,500.64 L188.35,500.64 L189.35,500.64 L190.35,500.64 L191.34,500.64 L192.34,500.64 L193.34,500.64 L194.33,500.64 L195.33,500.64 L196.32,500.64 L197.32,500.64 L198.32,500.64 L199.31,500.64 L200.31,500.64 L201.31,500.65 L202.30,500.65 L203.30,500.65 L204.29,500.65 L205.29,500.66 L206.29,500.66 L207.28,500.67 L208.28,500.69 L209.28,500.72 L210.27,500.76 L211.27,500.81 L212.26,500.90 L213.26,501.04 L214.26,501.25 L215.25,501.56 L216.25,502.03 L217.25,502.73 L218.24,503.79 L219.24,505.35 L220.23,507.63 L221.23,510.91 L222.23,515.49 L223.22,521.66 L224.22,529.56 L225.22,539.05 L226.21,549.63 L227.21,560.48 L228.20,570.68 L229.20,579.52" fill="none" stroke="#203f7e" stroke-width="1.5" clip-path="url(#clip70_626)"/>
<path d="M70.80,500.42 L71.80,500.42 L72.79,500.43 L73.79,500.43 L74.78,500.43 L75.78,500.43 L76.78,500.43 L77.77,500.43 L78.77,500.44 L79.77,500.44 L80.76,500.44 L81.76,500.44 L82.75,500.44 L83.75,500.45 L84.75,500.45 L85.74,500.45 L86.74,500.46 L87.74,500.46 L88.73,500.47 L89.73,500.47 L90.72,500.48 L91.72,500.48 L92.72,500.49 L93.71,500.50 L94.71,500.50 L95.71,500.51 L96.70,500.52 L97.70,500.53 L98.69,500.54 L99.69,500.55 L100.69,500.57 L101.68,500.58 L102.68,500.59 L103.68,500.61 L104.67,500.63 L105.67,500.65 L106.66,500.67 L107.66,500.69 L108.66,500.72 L109.65,500.75 L110.65,500.77 L111.65,500.81 L112.64,500.84 L113.64,500.88 L114.63,500.92 L115.63,500.97 L116.63,501.02 L117.62,501.07 L118.62,501.13 L119.62,501.20 L120.61,501.27 L121.61,501.34 L122.60,501.42 L123.60,501.51 L124.60,501.61 L125.59,501.72 L126.59,501.83 L127.58,501.96 L128.58,502.10 L129.58,502.25 L130.57,502.41 L131.57,502.58 L132.57,502.78 L133.56,502.98 L134.56,503.21 L135.55,503.45 L136.55,503.72 L137.55,504.01 L138.54,504.32 L139.54,504.66 L140.54,505.03 L141.53,505.42 L142.53,505.85 L143.52,506.32 L144.52,506.82 L145.52,507.36 L146.51,507.95 L147.51,508.58 L148.51,509.27 L149.50,510.00 L150.50,510.79 L151.49,511.64 L152.49,512.55 L153.49,513.52 L154.48,514.57 L155.48,515.68 L156.48,516.88 L157.47,518.14 L158.47,519.50 L159.46,520.93 L160.46,522.45 L161.46,524.06 L162.45,525.75 L163.45,527.54 L164.45,529.41 L165.44,531.38 L166.44,533.43 L167.43,535.57 L168.43,537.79 L169.43,540.09 L170.42,542.47 L171.42,544.92 L172.42,547.43 L173.41,549.99 L174.41,552.60 L175.40,555.26 L176.40,557.94 L177.40,560.64 L178.39,563.36 L179.39,566.07 L180.38,568.78 L181.38,571.47 L182.38,574.13 L183.37,576.76 L184.37,579.33 L185.37,581.86 L186.36,584.32 L187.36,586.71 L188.35,589.03 L189.35,591.27 L190.35,593.43 L191.34,595.51 L192.34,597.49 L193.34,599.39 L194.33,601.20 L195.33,602.92 L196.32,604.55 L197.32,606.09 L198.32,607.54 L199.31,608.91 L200.31,610.20 L201.31,611.41 L202.30,612.55 L203.30,613.61 L204.29,614.60 L205.29,615.53 L206.29,616.39 L207.28,617.19 L208.28,617.94 L209.28,618.64 L210.27,619.28 L211.27,619.88 L212.26,620.43 L213.26,620.94 L214.26,621.42 L215.25,621.86 L216.25,622.26 L217.25,622.64 L218.24,622.98 L219.24,623.30 L220.23,623.59 L221.23,623.86 L222.23,624.11 L223.22,624.34 L224.22,624.56 L225.22,624.75 L226.21,624.93 L227.21,625.10 L228.20,625.25 L229.20,625.39" fill="none" stroke="#aa0532" stroke-width="1.5" clip-path="url(#clip70_626)"/>
<line x1="108.20" y1="483.41" x2="108.20" y2="498.03" stroke="#7cbd55" stroke-width="1.2" />
<line x1="104.00" y1="483.41" x2="112.40" y2="483.41" stroke="#7cbd55" stroke-width="1.2" />
<line x1="104.00" y1="498.03" x2="112.40" y2="498.03" stroke="#7cbd55" stroke-width="1.2" />
<line x1="138.45" y1="481.14" x2="138.45" y2="500.30" stroke="#7cbd55" stroke-width="1.2" />
<line x1="134.25" y1="481.14" x2="142.65" y2="481.14" stroke="#7cbd55" stroke-width="1.2" />
<line x1="134.25" y1="500.30" x2="142.65" y2="500.30" stroke="#7cbd55" stroke-width="1.2" />
<line x1="198.95" y1="503.57" x2="198.95" y2="515.67" stroke="#7cbd55" stroke-width="1.2" />
<line x1="194.75" y1="503.57" x2="203.15" y2="503.57" stroke="#7cbd55" stroke-width="1.2" />
<line x1="194.75" y1="515.67" x2="203.15" y2="515.67" stroke="#7cbd55" stroke-width="1.2" />
<line x1="229.20" y1="597.95" x2="229.20" y2="614.07" stroke="#7cbd55" stroke-width="1.2" />
<line x1="225.00" y1="597.95" x2="233.40" y2="597.95" stroke="#7cbd55" stroke-width="1.2" />
<line x1="225.00" y1="614.07" x2="233.40" y2="614.07" stroke="#7cbd55" stroke-width="1.2" />
<circle cx="70.80" cy="500.80" r="3.55" fill="#6cb33e"/>
<circle cx="108.20" cy="490.72" r="3.55" fill="#6cb33e"/>
<circle cx="138.45" cy="490.72" r="3.55" fill="#6cb33e"/>
<circle cx="168.70" cy="491.98" r="3.55" fill="#6cb33e"/>
<circle cx="198.95" cy="509.62" r="3.55" fill="#6cb33e"/>
<circle cx="229.20" cy="606.01" r="3.55" fill="#6cb33e"/>
<line x1="168.70" y1="484.80" x2="168.70" y2="504.20" stroke="#33538f" stroke-width="1.2" />
<line x1="164.50" y1="484.80" x2="172.90" y2="484.80" stroke="#33538f" stroke-width="1.2" />
<line x1="164.50" y1="504.20" x2="172.90" y2="504.20" stroke="#33538f" stroke-width="1.2" />
<line x1="198.95" y1="493.74" x2="198.95" y2="507.86" stroke="#33538f" stroke-width="1.2" />
<line x1="194.75" y1="493.74" x2="203.15" y2="493.74" stroke="#33538f" stroke-width="1.2" />
<line x1="194.75" y1="507.86" x2="203.15" y2="507.86" stroke="#33538f" stroke-width="1.2" />
<line x1="229.20" y1="572.75" x2="229.20" y2="587.61" stroke="#33538f" stroke-width="1.2" />
<line x1="225.00" y1="572.75" x2="233.40" y2="572.75" stroke="#33538f" stroke-width="1.2" />
<line x1="225.00" y1="587.61" x2="233.40" y2="587.61" stroke="#33538f" stroke-width="1.2" />
<polygon points="67.20,503.75 74.40,503.75 70.80,497.85" fill="#203f7e"/>
<polygon points="104.60,498.71 111.80,498.71 108.20,492.81" fill="#203f7e"/>
<polygon points="134.85,498.71 142.05,498.71 138.45,492.81" fill="#203f7e"/>
<polygon points="165.10,497.45 172.30,497.45 168.70,491.55" fill="#203f7e"/>
<polygon points="195.35,503.75 202.55,503.75 198.95,497.85" fill="#203f7e"/>
<polygon points="225.60,583.13 232.80,583.13 229.20,577.23" fill="#203f7e"/>
<line x1="108.20" y1="482.91" x2="108.20" y2="501.05" stroke="#bb2a52" stroke-width="1.2" />
<line x1="104.00" y1="482.91" x2="112.40" y2="482.91" stroke="#bb2a52" stroke-width="1.2" />
<line x1="104.00" y1="501.05" x2="112.40" y2="501.05" stroke="#bb2a52" stroke-width="1.2" />
<line x1="168.70" y1="526.38" x2="168.70" y2="553.34" stroke="#bb2a52" stroke-width="1.2" />
<line x1="164.50" y1="526.38" x2="172.90" y2="526.38" stroke="#bb2a52" stroke-width="1.2" />
<line x1="164.50" y1="553.34" x2="172.90" y2="553.34" stroke="#bb2a52" stroke-width="1.2" />
<line x1="198.95" y1="601.60" x2="198.95" y2="610.42" stroke="#bb2a52" stroke-width="1.2" />
<line x1="194.75" y1="601.60" x2="203.15" y2="601.60" stroke="#bb2a52" stroke-width="1.2" />
<line x1="194.75" y1="610.42" x2="203.15" y2="610.42" stroke="#bb2a52" stroke-width="1.2" />
<rect x="67.10" y="497.10" width="7.4" height="7.4" fill="#aa0532"/>
<rect x="104.50" y="488.28" width="7.4" height="7.4" fill="#aa0532"/>
<rect x="134.75" y="493.32" width="7.4" height="7.4" fill="#aa0532"/>
<rect x="165.00" y="536.16" width="7.4" height="7.4" fill="#aa0532"/>
<rect x="195.25" y="602.31" width="7.4" height="7.4" fill="#aa0532"/>
<rect x="225.50" y="621.84" width="7.4" height="7.4" fill="#aa0532"/>
<line x1="319.10" y1="563.40" x2="478.50" y2="563.40" stroke="#231f20" stroke-width="1" stroke-dasharray="1.2 1.3"/>
<line x1="319.10" y1="467.50" x2="319.10" y2="629.80" stroke="#1a1a1a" stroke-width="1.5" />
<line x1="318.50" y1="626.40" x2="333.50" y2="626.40" stroke="#1a1a1a" stroke-width="1.5" />
<line x1="343.20" y1="626.40" x2="478.10" y2="626.40" stroke="#1a1a1a" stroke-width="1.5" />
<line x1="333.50" y1="623.00" x2="333.50" y2="629.80" stroke="#1a1a1a" stroke-width="1.2" />
<line x1="343.20" y1="623.00" x2="343.20" y2="629.80" stroke="#1a1a1a" stroke-width="1.2" />
<line x1="377.00" y1="626.40" x2="377.00" y2="629.40" stroke="#1a1a1a" stroke-width="1.2" />
<line x1="410.50" y1="626.40" x2="410.50" y2="629.40" stroke="#1a1a1a" stroke-width="1.2" />
<line x1="444.00" y1="626.40" x2="444.00" y2="629.40" stroke="#1a1a1a" stroke-width="1.2" />
<line x1="477.50" y1="626.40" x2="477.50" y2="629.40" stroke="#1a1a1a" stroke-width="1.2" />
<line x1="315.70" y1="500.40" x2="319.10" y2="500.40" stroke="#1a1a1a" stroke-width="1.2" />
<text x="312.00" y="502.40" font-size="9.8" text-anchor="end" textLength="14.1" lengthAdjust="spacingAndGlyphs" >100</text>
<line x1="315.70" y1="563.40" x2="319.10" y2="563.40" stroke="#1a1a1a" stroke-width="1.2" />
<text x="312.00" y="565.40" font-size="9.8" text-anchor="end" textLength="9.6" lengthAdjust="spacingAndGlyphs" >50</text>
<line x1="315.70" y1="626.40" x2="319.10" y2="626.40" stroke="#1a1a1a" stroke-width="1.2" />
<text x="312.00" y="628.40" font-size="9.8" text-anchor="end" textLength="4.7" lengthAdjust="spacingAndGlyphs" >0</text>
<text x="336.00" y="641.30" font-size="9.6" textLength="9.0" lengthAdjust="spacingAndGlyphs">10</text>
<text x="345.30" y="637.60" font-size="6.6" textLength="6.0" lengthAdjust="spacingAndGlyphs">-3</text>
<text x="403.30" y="641.30" font-size="9.6" textLength="9.0" lengthAdjust="spacingAndGlyphs">10</text>
<text x="412.60" y="637.60" font-size="6.6" textLength="6.0" lengthAdjust="spacingAndGlyphs">-1</text>
<text x="477.50" y="641.30" font-size="9.6" text-anchor="middle" textLength="9.4" lengthAdjust="spacingAndGlyphs" >10</text>
<text x="400.40" y="656.50" font-size="11" class="cd" text-anchor="middle" textLength="37.6" lengthAdjust="spacingAndGlyphs">NAV (<tspan font-style="italic">μM</tspan>)</text>
<text x="277.90" y="547.55" font-size="11.5" text-anchor="middle" textLength="120.8" lengthAdjust="spacingAndGlyphs" transform="rotate(-90 277.90 547.55)" class="cd">% viability normalized to DMSO</text>
<text x="290.20" y="546.85" font-size="11.5" text-anchor="middle" textLength="74.3" lengthAdjust="spacingAndGlyphs" transform="rotate(-90 290.20 546.85)" class="cd">(CellTiter-Glo assay)</text>
<clipPath id="clip319_626"><rect x="0" y="0" width="334.00" height="668"/><rect x="342.70" y="0" width="300" height="668"/></clipPath>
<path d="M319.10,500.59 L320.10,500.59 L321.09,500.59 L322.09,500.59 L323.08,500.59 L324.08,500.59 L325.08,500.59 L326.07,500.59 L327.07,500.59 L328.07,500.59 L329.06,500.59 L330.06,500.59 L331.05,500.59 L332.05,500.59 L333.05,500.59 L334.04,500.59 L335.04,500.59 L336.04,500.59 L337.03,500.59 L338.03,500.59 L339.02,500.59 L340.02,500.59 L341.02,500.59 L342.01,500.59 L343.01,500.59 L344.01,500.59 L345.00,500.59 L346.00,500.59 L346.99,500.59 L347.99,500.59 L348.99,500.59 L349.98,500.59 L350.98,500.59 L351.98,500.59 L352.97,500.59 L353.97,500.59 L354.96,500.59 L355.96,500.59 L356.96,500.59 L357.95,500.59 L358.95,500.59 L359.95,500.59 L360.94,500.59 L361.94,500.59 L362.93,500.59 L363.93,500.59 L364.93,500.59 L365.92,500.59 L366.92,500.59 L367.92,500.59 L368.91,500.59 L369.91,500.59 L370.90,500.59 L371.90,500.59 L372.90,500.59 L373.89,500.59 L374.89,500.59 L375.88,500.59 L376.88,500.59 L377.88,500.59 L378.87,500.59 L379.87,500.59 L380.87,500.59 L381.86,500.59 L382.86,500.59 L383.85,500.59 L384.85,500.59 L385.85,500.59 L386.84,500.59 L387.84,500.59 L388.84,500.59 L389.83,500.59 L390.83,500.59 L391.82,500.59 L392.82,500.59 L393.82,500.59 L394.81,500.59 L395.81,500.59 L396.81,500.59 L397.80,500.59 L398.80,500.59 L399.79,500.59 L400.79,500.59 L401.79,500.59 L402.78,500.59 L403.78,500.59 L404.78,500.59 L405.77,500.59 L406.77,500.59 L407.76,500.59 L408.76,500.59 L409.76,500.59 L410.75,500.59 L411.75,500.59 L412.75,500.59 L413.74,500.59 L414.74,500.59 L415.73,500.59 L416.73,500.59 L417.73,500.59 L418.72,500.59 L419.72,500.59 L420.72,500.59 L421.71,500.59 L422.71,500.59 L423.70,500.59 L424.70,500.59 L425.70,500.59 L426.69,500.59 L427.69,500.59 L428.68,500.59 L429.68,500.59 L430.68,500.59 L431.67,500.59 L432.67,500.59 L433.67,500.59 L434.66,500.59 L435.66,500.59 L436.65,500.59 L437.65,500.59 L438.65,500.59 L439.64,500.59 L440.64,500.59 L441.64,500.59 L442.63,500.59 L443.63,500.59 L444.62,500.59 L445.62,500.59 L446.62,500.60 L447.61,500.60 L448.61,500.60 L449.61,500.60 L450.60,500.60 L451.60,500.61 L452.59,500.61 L453.59,500.62 L454.59,500.63 L455.58,500.64 L456.58,500.66 L457.58,500.69 L458.57,500.73 L459.57,500.78 L460.56,500.86 L461.56,500.96 L462.56,501.10 L463.55,501.29 L464.55,501.56 L465.55,501.93 L466.54,502.43 L467.54,503.11 L468.53,504.04 L469.53,505.30 L470.53,506.98 L471.52,509.19 L472.52,512.07 L473.52,515.72 L474.51,520.24 L475.51,525.64 L476.50,531.85 L477.50,538.66" fill="none" stroke="#203f7e" stroke-width="1.5" clip-path="url(#clip319_626)"/>
<path d="M319.10,500.46 L320.10,500.46 L321.09,500.46 L322.09,500.46 L323.08,500.46 L324.08,500.46 L325.08,500.46 L326.07,500.46 L327.07,500.46 L328.07,500.46 L329.06,500.46 L330.06,500.46 L331.05,500.46 L332.05,500.47 L333.05,500.47 L334.04,500.47 L335.04,500.47 L336.04,500.47 L337.03,500.47 L338.03,500.47 L339.02,500.47 L340.02,500.47 L341.02,500.47 L342.01,500.47 L343.01,500.47 L344.01,500.47 L345.00,500.48 L346.00,500.48 L346.99,500.48 L347.99,500.48 L348.99,500.48 L349.98,500.48 L350.98,500.49 L351.98,500.49 L352.97,500.49 L353.97,500.50 L354.96,500.50 L355.96,500.50 L356.96,500.51 L357.95,500.51 L358.95,500.52 L359.95,500.52 L360.94,500.53 L361.94,500.53 L362.93,500.54 L363.93,500.55 L364.93,500.55 L365.92,500.56 L366.92,500.57 L367.92,500.58 L368.91,500.59 L369.91,500.61 L370.90,500.62 L371.90,500.63 L372.90,500.65 L373.89,500.67 L374.89,500.69 L375.88,500.71 L376.88,500.73 L377.88,500.76 L378.87,500.78 L379.87,500.81 L380.87,500.84 L381.86,500.88 L382.86,500.92 L383.85,500.96 L384.85,501.01 L385.85,501.06 L386.84,501.11 L387.84,501.17 L388.84,501.24 L389.83,501.31 L390.83,501.39 L391.82,501.47 L392.82,501.56 L393.82,501.66 L394.81,501.77 L395.81,501.89 L396.81,502.02 L397.80,502.17 L398.80,502.32 L399.79,502.49 L400.79,502.67 L401.79,502.87 L402.78,503.09 L403.78,503.33 L404.78,503.59 L405.77,503.87 L406.77,504.18 L407.76,504.51 L408.76,504.87 L409.76,505.26 L410.75,505.69 L411.75,506.15 L412.75,506.65 L413.74,507.19 L414.74,507.77 L415.73,508.41 L416.73,509.09 L417.73,509.83 L418.72,510.63 L419.72,511.49 L420.72,512.42 L421.71,513.41 L422.71,514.48 L423.70,515.63 L424.70,516.85 L425.70,518.16 L426.69,519.56 L427.69,521.05 L428.68,522.63 L429.68,524.30 L430.68,526.07 L431.67,527.95 L432.67,529.92 L433.67,531.98 L434.66,534.15 L435.66,536.41 L436.65,538.77 L437.65,541.21 L438.65,543.74 L439.64,546.35 L440.64,549.02 L441.64,551.76 L442.63,554.56 L443.63,557.40 L444.62,560.27 L445.62,563.17 L446.62,566.08 L447.61,569.00 L448.61,571.90 L449.61,574.78 L450.60,577.63 L451.60,580.44 L452.59,583.20 L453.59,585.90 L454.59,588.53 L455.58,591.08 L456.58,593.55 L457.58,595.93 L458.57,598.22 L459.57,600.42 L460.56,602.52 L461.56,604.52 L462.56,606.42 L463.55,608.22 L464.55,609.92 L465.55,611.53 L466.54,613.05 L467.54,614.47 L468.53,615.81 L469.53,617.06 L470.53,618.23 L471.52,619.32 L472.52,620.33 L473.52,621.28 L474.51,622.16 L475.51,622.98 L476.50,623.73 L477.50,624.43" fill="none" stroke="#aa0532" stroke-width="1.5" clip-path="url(#clip319_626)"/>
<path d="M319.10,499.97 L320.10,499.97 L321.09,499.98 L322.09,499.98 L323.08,499.98 L324.08,499.98 L325.08,499.99 L326.07,499.99 L327.07,499.99 L328.07,499.99 L329.06,500.00 L330.06,500.00 L331.05,500.01 L332.05,500.01 L333.05,500.02 L334.04,500.02 L335.04,500.03 L336.04,500.03 L337.03,500.04 L338.03,500.05 L339.02,500.06 L340.02,500.06 L341.02,500.07 L342.01,500.08 L343.01,500.10 L344.01,500.11 L345.00,500.12 L346.00,500.13 L346.99,500.15 L347.99,500.16 L348.99,500.18 L349.98,500.20 L350.98,500.22 L351.98,500.24 L352.97,500.27 L353.97,500.29 L354.96,500.32 L355.96,500.35 L356.96,500.38 L357.95,500.42 L358.95,500.45 L359.95,500.50 L360.94,500.54 L361.94,500.59 L362.93,500.64 L363.93,500.69 L364.93,500.75 L365.92,500.82 L366.92,500.89 L367.92,500.97 L368.91,501.05 L369.91,501.14 L370.90,501.23 L371.90,501.33 L372.90,501.44 L373.89,501.56 L374.89,501.69 L375.88,501.83 L376.88,501.98 L377.88,502.14 L378.87,502.32 L379.87,502.51 L380.87,502.71 L381.86,502.93 L382.86,503.17 L383.85,503.42 L384.85,503.69 L385.85,503.99 L386.84,504.30 L387.84,504.64 L388.84,505.01 L389.83,505.40 L390.83,505.83 L391.82,506.28 L392.82,506.76 L393.82,507.29 L394.81,507.84 L395.81,508.44 L396.81,509.08 L397.80,509.77 L398.80,510.50 L399.79,511.28 L400.79,512.11 L401.79,513.00 L402.78,513.94 L403.78,514.94 L404.78,516.01 L405.77,517.13 L406.77,518.33 L407.76,519.59 L408.76,520.92 L409.76,522.33 L410.75,523.81 L411.75,525.36 L412.75,526.98 L413.74,528.69 L414.74,530.46 L415.73,532.31 L416.73,534.24 L417.73,536.23 L418.72,538.29 L419.72,540.42 L420.72,542.61 L421.71,544.86 L422.71,547.16 L423.70,549.51 L424.70,551.90 L425.70,554.33 L426.69,556.78 L427.69,559.26 L428.68,561.75 L429.68,564.25 L430.68,566.75 L431.67,569.24 L432.67,571.71 L433.67,574.16 L434.66,576.58 L435.66,578.97 L436.65,581.31 L437.65,583.60 L438.65,585.84 L439.64,588.02 L440.64,590.14 L441.64,592.19 L442.63,594.17 L443.63,596.08 L444.62,597.92 L445.62,599.68 L446.62,601.37 L447.61,602.98 L448.61,604.52 L449.61,605.98 L450.60,607.38 L451.60,608.70 L452.59,609.95 L453.59,611.13 L454.59,612.24 L455.58,613.30 L456.58,614.29 L457.58,615.22 L458.57,616.10 L459.57,616.92 L460.56,617.69 L461.56,618.41 L462.56,619.09 L463.55,619.72 L464.55,620.31 L465.55,620.86 L466.54,621.38 L467.54,621.86 L468.53,622.31 L469.53,622.72 L470.53,623.11 L471.52,623.47 L472.52,623.81 L473.52,624.12 L474.51,624.41 L475.51,624.68 L476.50,624.93 L477.50,625.16" fill="none" stroke="#6cb33e" stroke-width="1.5" clip-path="url(#clip319_626)"/>
<line x1="417.00" y1="490.07" x2="417.00" y2="505.94" stroke="#33538f" stroke-width="1.2" />
<line x1="412.80" y1="490.07" x2="421.20" y2="490.07" stroke="#33538f" stroke-width="1.2" />
<line x1="412.80" y1="505.94" x2="421.20" y2="505.94" stroke="#33538f" stroke-width="1.2" />
<line x1="447.25" y1="492.08" x2="447.25" y2="506.45" stroke="#33538f" stroke-width="1.2" />
<line x1="443.05" y1="492.08" x2="451.45" y2="492.08" stroke="#33538f" stroke-width="1.2" />
<line x1="443.05" y1="506.45" x2="451.45" y2="506.45" stroke="#33538f" stroke-width="1.2" />
<line x1="477.50" y1="536.18" x2="477.50" y2="548.53" stroke="#33538f" stroke-width="1.2" />
<line x1="473.30" y1="536.18" x2="481.70" y2="536.18" stroke="#33538f" stroke-width="1.2" />
<line x1="473.30" y1="548.53" x2="481.70" y2="548.53" stroke="#33538f" stroke-width="1.2" />
<polygon points="315.50,503.35 322.70,503.35 319.10,497.45" fill="#203f7e"/>
<polygon points="352.90,503.35 360.10,503.35 356.50,497.45" fill="#203f7e"/>
<polygon points="383.15,503.35 390.35,503.35 386.75,497.45" fill="#203f7e"/>
<polygon points="413.40,500.96 420.60,500.96 417.00,495.05" fill="#203f7e"/>
<polygon points="443.65,502.22 450.85,502.22 447.25,496.31" fill="#203f7e"/>
<polygon points="473.90,545.31 481.10,545.31 477.50,539.41" fill="#203f7e"/>
<line x1="356.50" y1="485.53" x2="356.50" y2="508.97" stroke="#bb2a52" stroke-width="1.2" />
<line x1="352.30" y1="485.53" x2="360.70" y2="485.53" stroke="#bb2a52" stroke-width="1.2" />
<line x1="352.30" y1="508.97" x2="360.70" y2="508.97" stroke="#bb2a52" stroke-width="1.2" />
<line x1="386.75" y1="489.56" x2="386.75" y2="503.68" stroke="#bb2a52" stroke-width="1.2" />
<line x1="382.55" y1="489.56" x2="390.95" y2="489.56" stroke="#bb2a52" stroke-width="1.2" />
<line x1="382.55" y1="503.68" x2="390.95" y2="503.68" stroke="#bb2a52" stroke-width="1.2" />
<line x1="417.00" y1="503.17" x2="417.00" y2="517.79" stroke="#bb2a52" stroke-width="1.2" />
<line x1="412.80" y1="503.17" x2="421.20" y2="503.17" stroke="#bb2a52" stroke-width="1.2" />
<line x1="412.80" y1="517.79" x2="421.20" y2="517.79" stroke="#bb2a52" stroke-width="1.2" />
<line x1="447.25" y1="565.67" x2="447.25" y2="576.25" stroke="#bb2a52" stroke-width="1.2" />
<line x1="443.05" y1="565.67" x2="451.45" y2="565.67" stroke="#bb2a52" stroke-width="1.2" />
<line x1="443.05" y1="576.25" x2="451.45" y2="576.25" stroke="#bb2a52" stroke-width="1.2" />
<rect x="315.40" y="496.70" width="7.4" height="7.4" fill="#aa0532"/>
<rect x="352.80" y="493.55" width="7.4" height="7.4" fill="#aa0532"/>
<rect x="383.05" y="492.92" width="7.4" height="7.4" fill="#aa0532"/>
<rect x="413.30" y="506.78" width="7.4" height="7.4" fill="#aa0532"/>
<rect x="443.55" y="567.26" width="7.4" height="7.4" fill="#aa0532"/>
<rect x="473.80" y="621.44" width="7.4" height="7.4" fill="#aa0532"/>
<line x1="356.50" y1="487.04" x2="356.50" y2="508.72" stroke="#7cbd55" stroke-width="1.2" />
<line x1="352.30" y1="487.04" x2="360.70" y2="487.04" stroke="#7cbd55" stroke-width="1.2" />
<line x1="352.30" y1="508.72" x2="360.70" y2="508.72" stroke="#7cbd55" stroke-width="1.2" />
<line x1="386.75" y1="484.27" x2="386.75" y2="511.49" stroke="#7cbd55" stroke-width="1.2" />
<line x1="382.55" y1="484.27" x2="390.95" y2="484.27" stroke="#7cbd55" stroke-width="1.2" />
<line x1="382.55" y1="511.49" x2="390.95" y2="511.49" stroke="#7cbd55" stroke-width="1.2" />
<line x1="417.00" y1="525.85" x2="417.00" y2="548.03" stroke="#7cbd55" stroke-width="1.2" />
<line x1="412.80" y1="525.85" x2="421.20" y2="525.85" stroke="#7cbd55" stroke-width="1.2" />
<line x1="412.80" y1="548.03" x2="421.20" y2="548.03" stroke="#7cbd55" stroke-width="1.2" />
<line x1="447.25" y1="596.66" x2="447.25" y2="606.74" stroke="#7cbd55" stroke-width="1.2" />
<line x1="443.05" y1="596.66" x2="451.45" y2="596.66" stroke="#7cbd55" stroke-width="1.2" />
<line x1="443.05" y1="606.74" x2="451.45" y2="606.74" stroke="#7cbd55" stroke-width="1.2" />
<circle cx="319.10" cy="500.40" r="3.55" fill="#6cb33e"/>
<circle cx="356.50" cy="497.88" r="3.55" fill="#6cb33e"/>
<circle cx="386.75" cy="497.88" r="3.55" fill="#6cb33e"/>
<circle cx="417.00" cy="536.94" r="3.55" fill="#6cb33e"/>
<circle cx="447.25" cy="601.70" r="3.55" fill="#6cb33e"/>
<circle cx="477.50" cy="625.77" r="3.55" fill="#6cb33e"/>
</svg></body></html>
